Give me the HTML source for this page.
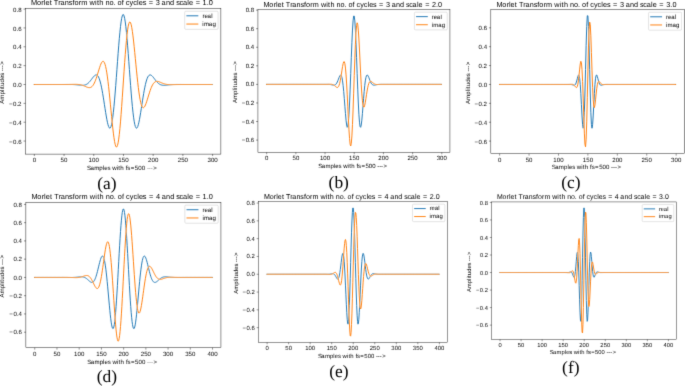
<!DOCTYPE html>
<html><head><meta charset="utf-8"><title>Morlet Transform plots</title><style>
html,body{margin:0;padding:0;background:#fff;}
body{width:685px;height:386px;overflow:hidden;}
svg{display:block;}
text{font-family:"Liberation Sans", sans-serif;fill:#000;text-rendering:geometricPrecision;}
text.cap{font-family:"Liberation Serif", serif;fill:#000;}
</style></head><body>
<svg width="685" height="386" viewBox="0 0 685 386">
<defs><filter id="bl" filterUnits="userSpaceOnUse" x="0" y="0" width="685" height="386" color-interpolation-filters="sRGB"><feConvolveMatrix order="3" kernelMatrix="0.01134 0.08382 0.01134 0.08382 0.61935 0.08382 0.01134 0.08382 0.01134" divisor="1" edgeMode="duplicate" preserveAlpha="true"/></filter></defs>
<rect width="685" height="386" fill="#fff"/>
<g filter="url(#bl)">
<rect width="685" height="386" fill="#fff"/>
<g><clipPath id="ca"><rect x="25.46" y="8.46" width="195.42" height="145.64"/></clipPath>
<mask id="ma" maskUnits="userSpaceOnUse" x="0" y="0" width="685" height="386"><rect width="685" height="386" fill="#fff"/><polyline points="34.34,84.50 34.94,84.50 35.53,84.50 36.13,84.50 36.72,84.50 37.31,84.50 37.91,84.50 38.50,84.50 39.10,84.50 39.69,84.50 40.28,84.50 40.88,84.50 41.47,84.50 42.07,84.50 42.66,84.50 43.26,84.50 43.85,84.50 44.44,84.50 45.04,84.50 45.63,84.50 46.23,84.50 46.82,84.50 47.41,84.50 48.01,84.50 48.60,84.50 49.20,84.50 49.79,84.50 50.38,84.50 50.98,84.50 51.57,84.50 52.17,84.50 52.76,84.50 53.36,84.50 53.95,84.50 54.54,84.50 55.14,84.50 55.73,84.50 56.33,84.50 56.92,84.50 57.51,84.50 58.11,84.50 58.70,84.50 59.30,84.50 59.89,84.50 60.49,84.50 61.08,84.50 61.67,84.50 62.27,84.50 62.86,84.50 63.46,84.50 64.05,84.50 64.64,84.50 65.24,84.50 65.83,84.49 66.43,84.49 67.02,84.48 67.62,84.48 68.21,84.47 68.80,84.46 69.40,84.45 69.99,84.44 70.59,84.43 71.18,84.42 71.77,84.40 72.37,84.39 72.96,84.38 73.56,84.37 74.15,84.36 74.75,84.35 75.34,84.35 75.93,84.35 76.53,84.36 77.12,84.38 77.72,84.41 78.31,84.46 78.90,84.52 79.50,84.59 80.09,84.69 80.69,84.81 81.28,84.95 81.88,85.11 82.47,85.30 83.06,85.50 83.66,85.73 84.25,85.97 84.85,86.23 85.44,86.49 86.03,86.75 86.63,87.00 87.22,87.22 87.82,87.42 88.41,87.56 89.01,87.64 89.60,87.65 90.19,87.55 90.79,87.35 91.38,87.02 91.98,86.55 92.57,85.92 93.16,85.13 93.76,84.16 94.35,83.02 94.95,81.70 95.54,80.22 96.14,78.59 96.73,76.83 97.32,74.96 97.92,73.03 98.51,71.08 99.11,69.14 99.70,67.29 100.29,65.57 100.89,64.05 101.48,62.80 102.08,61.88 102.67,61.36 103.27,61.30 103.86,61.74 104.45,62.75 105.05,64.35 105.64,66.57 106.24,69.41 106.83,72.88 107.42,76.95 108.02,81.57 108.61,86.69 109.21,92.22 109.80,98.08 110.40,104.16 110.99,110.32 111.58,116.44 112.18,122.37 112.77,127.97 113.37,133.10 113.96,137.61 114.55,141.37 115.15,144.26 115.74,146.18 116.34,147.04 116.93,146.79 117.53,145.38 118.12,142.82 118.71,139.13 119.31,134.35 119.90,128.57 120.50,121.88 121.09,114.42 121.68,106.33 122.28,97.78 122.87,88.96 123.47,80.04 124.06,71.22 124.65,62.67 125.25,54.58 125.84,47.12 126.44,40.43 127.03,34.65 127.63,29.87 128.22,26.18 128.81,23.62 129.41,22.21 130.00,21.96 130.60,22.82 131.19,24.74 131.78,27.63 132.38,31.39 132.97,35.90 133.57,41.03 134.16,46.63 134.76,52.56 135.35,58.68 135.94,64.84 136.54,70.92 137.13,76.78 137.73,82.31 138.32,87.43 138.91,92.05 139.51,96.12 140.10,99.59 140.70,102.43 141.29,104.65 141.89,106.25 142.48,107.26 143.07,107.70 143.67,107.64 144.26,107.12 144.86,106.20 145.45,104.95 146.04,103.43 146.64,101.71 147.23,99.86 147.83,97.92 148.42,95.97 149.02,94.04 149.61,92.17 150.20,90.41 150.80,88.78 151.39,87.30 151.99,85.98 152.58,84.84 153.17,83.87 153.77,83.08 154.36,82.45 154.96,81.98 155.55,81.65 156.15,81.45 156.74,81.35 157.33,81.36 157.93,81.44 158.52,81.58 159.12,81.78 159.71,82.00 160.30,82.25 160.90,82.51 161.49,82.77 162.09,83.03 162.68,83.27 163.28,83.50 163.87,83.70 164.46,83.89 165.06,84.05 165.65,84.19 166.25,84.31 166.84,84.41 167.43,84.48 168.03,84.54 168.62,84.59 169.22,84.62 169.81,84.64 170.41,84.65 171.00,84.65 171.59,84.65 172.19,84.64 172.78,84.63 173.38,84.62 173.97,84.61 174.56,84.60 175.16,84.58 175.75,84.57 176.35,84.56 176.94,84.55 177.54,84.54 178.13,84.53 178.72,84.52 179.32,84.52 179.91,84.51 180.51,84.51 181.10,84.50 181.69,84.50 182.29,84.50 182.88,84.50 183.48,84.50 184.07,84.50 184.67,84.50 185.26,84.50 185.85,84.50 186.45,84.50 187.04,84.50 187.64,84.50 188.23,84.50 188.82,84.50 189.42,84.50 190.01,84.50 190.61,84.50 191.20,84.50 191.79,84.50 192.39,84.50 192.98,84.50 193.58,84.50 194.17,84.50 194.77,84.50 195.36,84.50 195.95,84.50 196.55,84.50 197.14,84.50 197.74,84.50 198.33,84.50 198.92,84.50 199.52,84.50 200.11,84.50 200.71,84.50 201.30,84.50 201.90,84.50 202.49,84.50 203.08,84.50 203.68,84.50 204.27,84.50 204.87,84.50 205.46,84.50 206.05,84.50 206.65,84.50 207.24,84.50 207.84,84.50 208.43,84.50 209.03,84.50 209.62,84.50 210.21,84.50 210.81,84.50 211.40,84.50 212.00,84.50" fill="none" stroke="#000" stroke-width="0.99" stroke-linejoin="round"/></mask>
<g clip-path="url(#ca)"><polyline mask="url(#ma)" points="34.34,84.50 34.94,84.50 35.53,84.50 36.13,84.50 36.72,84.50 37.31,84.50 37.91,84.50 38.50,84.50 39.10,84.50 39.69,84.50 40.28,84.50 40.88,84.50 41.47,84.50 42.07,84.50 42.66,84.50 43.26,84.50 43.85,84.50 44.44,84.50 45.04,84.50 45.63,84.50 46.23,84.50 46.82,84.50 47.41,84.50 48.01,84.50 48.60,84.50 49.20,84.50 49.79,84.50 50.38,84.50 50.98,84.50 51.57,84.50 52.17,84.50 52.76,84.50 53.36,84.50 53.95,84.50 54.54,84.50 55.14,84.50 55.73,84.50 56.33,84.50 56.92,84.50 57.51,84.50 58.11,84.50 58.70,84.50 59.30,84.50 59.89,84.50 60.49,84.50 61.08,84.50 61.67,84.50 62.27,84.49 62.86,84.49 63.46,84.49 64.05,84.49 64.64,84.49 65.24,84.48 65.83,84.48 66.43,84.48 67.02,84.48 67.62,84.48 68.21,84.48 68.80,84.48 69.40,84.48 69.99,84.48 70.59,84.49 71.18,84.50 71.77,84.51 72.37,84.53 72.96,84.54 73.56,84.57 74.15,84.60 74.75,84.63 75.34,84.68 75.93,84.72 76.53,84.78 77.12,84.83 77.72,84.90 78.31,84.96 78.90,85.03 79.50,85.10 80.09,85.16 80.69,85.22 81.28,85.27 81.88,85.30 82.47,85.30 83.06,85.29 83.66,85.24 84.25,85.15 84.85,85.01 85.44,84.83 86.03,84.58 86.63,84.28 87.22,83.91 87.82,83.46 88.41,82.95 89.01,82.37 89.60,81.73 90.19,81.03 90.79,80.28 91.38,79.50 91.98,78.71 92.57,77.92 93.16,77.16 93.76,76.46 94.35,75.86 94.95,75.37 95.54,75.04 96.14,74.91 96.73,75.00 97.32,75.36 97.92,76.01 98.51,76.98 99.11,78.30 99.70,79.97 100.29,82.01 100.89,84.40 101.48,87.15 102.08,90.21 102.67,93.55 103.27,97.13 103.86,100.87 104.45,104.72 105.05,108.58 105.64,112.36 106.24,115.97 106.83,119.30 107.42,122.25 108.02,124.71 108.61,126.58 109.21,127.77 109.80,128.19 110.40,127.79 110.99,126.51 111.58,124.32 112.18,121.20 112.77,117.18 113.37,112.28 113.96,106.56 114.55,100.12 115.15,93.06 115.74,85.51 116.34,77.61 116.93,69.51 117.53,61.40 118.12,53.44 118.71,45.82 119.31,38.70 119.90,32.25 120.50,26.62 121.09,21.95 121.68,18.34 122.28,15.88 122.87,14.64 123.47,14.64 124.06,15.88 124.65,18.34 125.25,21.95 125.84,26.62 126.44,32.25 127.03,38.70 127.63,45.82 128.22,53.44 128.81,61.40 129.41,69.51 130.00,77.61 130.60,85.51 131.19,93.06 131.78,100.12 132.38,106.56 132.97,112.28 133.57,117.18 134.16,121.20 134.76,124.32 135.35,126.51 135.94,127.79 136.54,128.19 137.13,127.77 137.73,126.58 138.32,124.71 138.91,122.25 139.51,119.30 140.10,115.97 140.70,112.36 141.29,108.58 141.89,104.72 142.48,100.87 143.07,97.13 143.67,93.55 144.26,90.21 144.86,87.15 145.45,84.40 146.04,82.01 146.64,79.97 147.23,78.30 147.83,76.98 148.42,76.01 149.02,75.36 149.61,75.00 150.20,74.91 150.80,75.04 151.39,75.37 151.99,75.86 152.58,76.46 153.17,77.16 153.77,77.92 154.36,78.71 154.96,79.50 155.55,80.28 156.15,81.03 156.74,81.73 157.33,82.37 157.93,82.95 158.52,83.46 159.12,83.91 159.71,84.28 160.30,84.58 160.90,84.83 161.49,85.01 162.09,85.15 162.68,85.24 163.28,85.29 163.87,85.30 164.46,85.30 165.06,85.27 165.65,85.22 166.25,85.16 166.84,85.10 167.43,85.03 168.03,84.96 168.62,84.90 169.22,84.83 169.81,84.78 170.41,84.72 171.00,84.68 171.59,84.63 172.19,84.60 172.78,84.57 173.38,84.54 173.97,84.53 174.56,84.51 175.16,84.50 175.75,84.49 176.35,84.48 176.94,84.48 177.54,84.48 178.13,84.48 178.72,84.48 179.32,84.48 179.91,84.48 180.51,84.48 181.10,84.48 181.69,84.49 182.29,84.49 182.88,84.49 183.48,84.49 184.07,84.49 184.67,84.50 185.26,84.50 185.85,84.50 186.45,84.50 187.04,84.50 187.64,84.50 188.23,84.50 188.82,84.50 189.42,84.50 190.01,84.50 190.61,84.50 191.20,84.50 191.79,84.50 192.39,84.50 192.98,84.50 193.58,84.50 194.17,84.50 194.77,84.50 195.36,84.50 195.95,84.50 196.55,84.50 197.14,84.50 197.74,84.50 198.33,84.50 198.92,84.50 199.52,84.50 200.11,84.50 200.71,84.50 201.30,84.50 201.90,84.50 202.49,84.50 203.08,84.50 203.68,84.50 204.27,84.50 204.87,84.50 205.46,84.50 206.05,84.50 206.65,84.50 207.24,84.50 207.84,84.50 208.43,84.50 209.03,84.50 209.62,84.50 210.21,84.50 210.81,84.50 211.40,84.50 212.00,84.50" fill="none" stroke="#1f77b4" stroke-width="0.99" stroke-linejoin="round" stroke-linecap="square"/>
<polyline points="34.34,84.50 34.94,84.50 35.53,84.50 36.13,84.50 36.72,84.50 37.31,84.50 37.91,84.50 38.50,84.50 39.10,84.50 39.69,84.50 40.28,84.50 40.88,84.50 41.47,84.50 42.07,84.50 42.66,84.50 43.26,84.50 43.85,84.50 44.44,84.50 45.04,84.50 45.63,84.50 46.23,84.50 46.82,84.50 47.41,84.50 48.01,84.50 48.60,84.50 49.20,84.50 49.79,84.50 50.38,84.50 50.98,84.50 51.57,84.50 52.17,84.50 52.76,84.50 53.36,84.50 53.95,84.50 54.54,84.50 55.14,84.50 55.73,84.50 56.33,84.50 56.92,84.50 57.51,84.50 58.11,84.50 58.70,84.50 59.30,84.50 59.89,84.50 60.49,84.50 61.08,84.50 61.67,84.50 62.27,84.50 62.86,84.50 63.46,84.50 64.05,84.50 64.64,84.50 65.24,84.50 65.83,84.49 66.43,84.49 67.02,84.48 67.62,84.48 68.21,84.47 68.80,84.46 69.40,84.45 69.99,84.44 70.59,84.43 71.18,84.42 71.77,84.40 72.37,84.39 72.96,84.38 73.56,84.37 74.15,84.36 74.75,84.35 75.34,84.35 75.93,84.35 76.53,84.36 77.12,84.38 77.72,84.41 78.31,84.46 78.90,84.52 79.50,84.59 80.09,84.69 80.69,84.81 81.28,84.95 81.88,85.11 82.47,85.30 83.06,85.50 83.66,85.73 84.25,85.97 84.85,86.23 85.44,86.49 86.03,86.75 86.63,87.00 87.22,87.22 87.82,87.42 88.41,87.56 89.01,87.64 89.60,87.65 90.19,87.55 90.79,87.35 91.38,87.02 91.98,86.55 92.57,85.92 93.16,85.13 93.76,84.16 94.35,83.02 94.95,81.70 95.54,80.22 96.14,78.59 96.73,76.83 97.32,74.96 97.92,73.03 98.51,71.08 99.11,69.14 99.70,67.29 100.29,65.57 100.89,64.05 101.48,62.80 102.08,61.88 102.67,61.36 103.27,61.30 103.86,61.74 104.45,62.75 105.05,64.35 105.64,66.57 106.24,69.41 106.83,72.88 107.42,76.95 108.02,81.57 108.61,86.69 109.21,92.22 109.80,98.08 110.40,104.16 110.99,110.32 111.58,116.44 112.18,122.37 112.77,127.97 113.37,133.10 113.96,137.61 114.55,141.37 115.15,144.26 115.74,146.18 116.34,147.04 116.93,146.79 117.53,145.38 118.12,142.82 118.71,139.13 119.31,134.35 119.90,128.57 120.50,121.88 121.09,114.42 121.68,106.33 122.28,97.78 122.87,88.96 123.47,80.04 124.06,71.22 124.65,62.67 125.25,54.58 125.84,47.12 126.44,40.43 127.03,34.65 127.63,29.87 128.22,26.18 128.81,23.62 129.41,22.21 130.00,21.96 130.60,22.82 131.19,24.74 131.78,27.63 132.38,31.39 132.97,35.90 133.57,41.03 134.16,46.63 134.76,52.56 135.35,58.68 135.94,64.84 136.54,70.92 137.13,76.78 137.73,82.31 138.32,87.43 138.91,92.05 139.51,96.12 140.10,99.59 140.70,102.43 141.29,104.65 141.89,106.25 142.48,107.26 143.07,107.70 143.67,107.64 144.26,107.12 144.86,106.20 145.45,104.95 146.04,103.43 146.64,101.71 147.23,99.86 147.83,97.92 148.42,95.97 149.02,94.04 149.61,92.17 150.20,90.41 150.80,88.78 151.39,87.30 151.99,85.98 152.58,84.84 153.17,83.87 153.77,83.08 154.36,82.45 154.96,81.98 155.55,81.65 156.15,81.45 156.74,81.35 157.33,81.36 157.93,81.44 158.52,81.58 159.12,81.78 159.71,82.00 160.30,82.25 160.90,82.51 161.49,82.77 162.09,83.03 162.68,83.27 163.28,83.50 163.87,83.70 164.46,83.89 165.06,84.05 165.65,84.19 166.25,84.31 166.84,84.41 167.43,84.48 168.03,84.54 168.62,84.59 169.22,84.62 169.81,84.64 170.41,84.65 171.00,84.65 171.59,84.65 172.19,84.64 172.78,84.63 173.38,84.62 173.97,84.61 174.56,84.60 175.16,84.58 175.75,84.57 176.35,84.56 176.94,84.55 177.54,84.54 178.13,84.53 178.72,84.52 179.32,84.52 179.91,84.51 180.51,84.51 181.10,84.50 181.69,84.50 182.29,84.50 182.88,84.50 183.48,84.50 184.07,84.50 184.67,84.50 185.26,84.50 185.85,84.50 186.45,84.50 187.04,84.50 187.64,84.50 188.23,84.50 188.82,84.50 189.42,84.50 190.01,84.50 190.61,84.50 191.20,84.50 191.79,84.50 192.39,84.50 192.98,84.50 193.58,84.50 194.17,84.50 194.77,84.50 195.36,84.50 195.95,84.50 196.55,84.50 197.14,84.50 197.74,84.50 198.33,84.50 198.92,84.50 199.52,84.50 200.11,84.50 200.71,84.50 201.30,84.50 201.90,84.50 202.49,84.50 203.08,84.50 203.68,84.50 204.27,84.50 204.87,84.50 205.46,84.50 206.05,84.50 206.65,84.50 207.24,84.50 207.84,84.50 208.43,84.50 209.03,84.50 209.62,84.50 210.21,84.50 210.81,84.50 211.40,84.50 212.00,84.50" fill="none" stroke="#ff7f0e" stroke-width="0.99" stroke-linejoin="round" stroke-linecap="square"/></g>
<rect x="25.46" y="8.46" width="195.42" height="145.64" fill="none" stroke="#000" stroke-width="0.44" stroke-linecap="square"/>
<line x1="34.34" y1="154.10" x2="34.34" y2="156.02" stroke="#000" stroke-width="0.44"/>
<text x="32.64" y="162.27" font-size="6.13">0</text>
<line x1="64.05" y1="154.10" x2="64.05" y2="156.02" stroke="#000" stroke-width="0.44"/>
<text x="60.60 64.07" y="162.27" font-size="6.13">50</text>
<line x1="93.76" y1="154.10" x2="93.76" y2="156.02" stroke="#000" stroke-width="0.44"/>
<text x="88.55 92.05 95.52" y="162.27" font-size="6.13">100</text>
<line x1="123.47" y1="154.10" x2="123.47" y2="156.02" stroke="#000" stroke-width="0.44"/>
<text x="118.26 121.74 125.22" y="162.27" font-size="6.13">150</text>
<line x1="153.17" y1="154.10" x2="153.17" y2="156.02" stroke="#000" stroke-width="0.44"/>
<text x="147.95 151.47 154.92" y="162.27" font-size="6.13">200</text>
<line x1="182.88" y1="154.10" x2="182.88" y2="156.02" stroke="#000" stroke-width="0.44"/>
<text x="177.66 181.16 184.62" y="162.27" font-size="6.13">250</text>
<line x1="212.59" y1="154.10" x2="212.59" y2="156.02" stroke="#000" stroke-width="0.44"/>
<text x="207.45 210.88 214.33" y="162.27" font-size="6.13">300</text>
<line x1="23.54" y1="141.06" x2="25.46" y2="141.06" stroke="#000" stroke-width="0.44"/>
<text x="8.88 12.98 16.44 18.19" y="143.67" font-size="6.13">−0.6</text>
<line x1="23.54" y1="122.21" x2="25.46" y2="122.21" stroke="#000" stroke-width="0.44"/>
<text x="8.92 13.01 16.45 18.20" y="124.81" font-size="6.13">−0.4</text>
<line x1="23.54" y1="103.35" x2="25.46" y2="103.35" stroke="#000" stroke-width="0.44"/>
<text x="8.92 13.01 16.45 18.12" y="105.96" font-size="6.13">−0.2</text>
<line x1="23.54" y1="84.50" x2="25.46" y2="84.50" stroke="#000" stroke-width="0.44"/>
<text x="13.03 16.47 18.20" y="87.11" font-size="6.13">0.0</text>
<line x1="23.54" y1="65.65" x2="25.46" y2="65.65" stroke="#000" stroke-width="0.44"/>
<text x="13.03 16.47 18.13" y="68.26" font-size="6.13">0.2</text>
<line x1="23.54" y1="46.79" x2="25.46" y2="46.79" stroke="#000" stroke-width="0.44"/>
<text x="13.03 16.47 18.20" y="49.40" font-size="6.13">0.4</text>
<line x1="23.54" y1="27.94" x2="25.46" y2="27.94" stroke="#000" stroke-width="0.44"/>
<text x="12.99 16.44 18.19" y="30.55" font-size="6.13">0.6</text>
<line x1="23.54" y1="9.09" x2="25.46" y2="9.09" stroke="#000" stroke-width="0.44"/>
<text x="12.99 16.44 18.19" y="11.70" font-size="6.13">0.8</text>
<text x="86.93 90.42 94.13 99.37 102.85 104.27 107.56 110.49 112.22 116.74 118.37 120.33 123.77 125.66 127.33 130.74 134.81 138.30 141.76 145.22 146.89 148.86 150.82 153.32" y="169.97" font-size="6.13">Samples with fs=500 ---&gt;</text>
<g transform="translate(4.01,103.62) rotate(-90)"><text x="-0.18 3.84 9.09 12.57 14.08 15.72 17.66 21.10 24.55 27.84 30.77 32.45 34.41 36.38 38.87" y="0.00" font-size="6.13">Amplitudes ---&gt;</text></g>
<text x="31.11 36.92 41.18 43.72 45.40 49.67 52.00 53.79 58.25 60.39 64.71 68.70 72.39 74.42 78.68 81.25 87.47 89.53 94.94 96.89 99.22 103.33 105.42 109.46 113.50 115.57 117.57 121.80 123.90 125.82 129.61 133.24 137.04 138.73 142.66 146.16 148.79 153.67 155.76 159.88 161.62 165.94 170.02 174.17 176.13 179.48 182.88 187.26 188.95 192.99 195.63 200.51 202.54 206.71 208.79" y="5.18" font-size="7.36">Morlet Transform with no. of cycles = 3 and scale = 1.0</text>
<rect x="184.70" y="11.20" width="33.44" height="18.15" rx="1.09" fill="#fff" fill-opacity="0.8" stroke="#ccc" stroke-width="0.55"/>
<line x1="186.89" y1="15.80" x2="197.84" y2="15.80" stroke="#1f77b4" stroke-width="0.99" stroke-linecap="square"/>
<line x1="186.89" y1="24.06" x2="197.84" y2="24.06" stroke="#ff7f0e" stroke-width="0.99" stroke-linecap="square"/>
<text x="202.41 204.44 207.55 211.22" y="17.72" font-size="6.13">real</text>
<text x="202.30 203.88 208.86 212.48" y="25.97" font-size="6.13">imag</text>
<text class="cap" x="97.24" y="188.50" font-size="17.40">(a)</text></g>
<g><clipPath id="cb"><rect x="257.94" y="9.42" width="192.00" height="142.93"/></clipPath>
<mask id="mb" maskUnits="userSpaceOnUse" x="0" y="0" width="685" height="386"><rect width="685" height="386" fill="#fff"/><polyline points="266.67,84.39 267.25,84.39 267.83,84.39 268.42,84.39 269.00,84.39 269.59,84.39 270.17,84.39 270.75,84.39 271.34,84.39 271.92,84.39 272.51,84.39 273.09,84.39 273.67,84.39 274.26,84.39 274.84,84.39 275.42,84.39 276.01,84.39 276.59,84.39 277.18,84.39 277.76,84.39 278.34,84.39 278.93,84.39 279.51,84.39 280.09,84.39 280.68,84.39 281.26,84.39 281.85,84.39 282.43,84.39 283.01,84.39 283.60,84.39 284.18,84.39 284.76,84.39 285.35,84.39 285.93,84.39 286.52,84.39 287.10,84.39 287.68,84.39 288.27,84.39 288.85,84.39 289.43,84.39 290.02,84.39 290.60,84.39 291.19,84.39 291.77,84.39 292.35,84.39 292.94,84.39 293.52,84.39 294.10,84.39 294.69,84.39 295.27,84.39 295.86,84.39 296.44,84.39 297.02,84.39 297.61,84.39 298.19,84.39 298.77,84.39 299.36,84.39 299.94,84.39 300.53,84.39 301.11,84.39 301.69,84.39 302.28,84.39 302.86,84.39 303.44,84.39 304.03,84.39 304.61,84.39 305.20,84.39 305.78,84.39 306.36,84.39 306.95,84.39 307.53,84.39 308.11,84.39 308.70,84.39 309.28,84.39 309.87,84.39 310.45,84.39 311.03,84.39 311.62,84.39 312.20,84.39 312.79,84.39 313.37,84.39 313.95,84.39 314.54,84.39 315.12,84.39 315.70,84.39 316.29,84.39 316.87,84.39 317.46,84.39 318.04,84.39 318.62,84.39 319.21,84.39 319.79,84.39 320.37,84.39 320.96,84.39 321.54,84.39 322.13,84.39 322.71,84.39 323.29,84.39 323.88,84.39 324.46,84.39 325.04,84.39 325.63,84.38 326.21,84.38 326.80,84.36 327.38,84.35 327.96,84.33 328.55,84.30 329.13,84.28 329.71,84.25 330.30,84.24 330.88,84.25 331.47,84.29 332.05,84.37 332.63,84.53 333.22,84.76 333.80,85.08 334.38,85.49 334.97,85.96 335.55,86.48 336.14,86.96 336.72,87.34 337.30,87.50 337.89,87.31 338.47,86.66 339.05,85.42 339.64,83.51 340.22,80.92 340.81,77.72 341.39,74.05 341.97,70.21 342.56,66.57 343.14,63.60 343.72,61.81 344.31,61.69 344.89,63.68 345.48,68.05 346.06,74.88 346.64,83.97 347.23,94.85 347.81,106.78 348.39,118.79 348.98,129.79 349.56,138.64 350.15,144.31 350.73,145.99 351.31,143.23 351.90,135.96 352.48,124.59 353.07,109.94 353.65,93.15 354.23,75.63 354.82,58.84 355.40,44.19 355.98,32.82 356.57,25.55 357.15,22.79 357.74,24.47 358.32,30.14 358.90,38.99 359.49,49.99 360.07,62.00 360.65,73.93 361.24,84.81 361.82,93.90 362.41,100.73 362.99,105.10 363.57,107.09 364.16,106.97 364.74,105.18 365.32,102.21 365.91,98.57 366.49,94.73 367.08,91.06 367.66,87.86 368.24,85.27 368.83,83.36 369.41,82.12 369.99,81.47 370.58,81.28 371.16,81.44 371.75,81.82 372.33,82.30 372.91,82.82 373.50,83.29 374.08,83.70 374.66,84.02 375.25,84.25 375.83,84.41 376.42,84.49 377.00,84.53 377.58,84.54 378.17,84.53 378.75,84.50 379.33,84.48 379.92,84.45 380.50,84.43 381.09,84.42 381.67,84.40 382.25,84.40 382.84,84.39 383.42,84.39 384.00,84.39 384.59,84.39 385.17,84.39 385.76,84.39 386.34,84.39 386.92,84.39 387.51,84.39 388.09,84.39 388.68,84.39 389.26,84.39 389.84,84.39 390.43,84.39 391.01,84.39 391.59,84.39 392.18,84.39 392.76,84.39 393.35,84.39 393.93,84.39 394.51,84.39 395.10,84.39 395.68,84.39 396.26,84.39 396.85,84.39 397.43,84.39 398.02,84.39 398.60,84.39 399.18,84.39 399.77,84.39 400.35,84.39 400.93,84.39 401.52,84.39 402.10,84.39 402.69,84.39 403.27,84.39 403.85,84.39 404.44,84.39 405.02,84.39 405.60,84.39 406.19,84.39 406.77,84.39 407.36,84.39 407.94,84.39 408.52,84.39 409.11,84.39 409.69,84.39 410.27,84.39 410.86,84.39 411.44,84.39 412.03,84.39 412.61,84.39 413.19,84.39 413.78,84.39 414.36,84.39 414.94,84.39 415.53,84.39 416.11,84.39 416.70,84.39 417.28,84.39 417.86,84.39 418.45,84.39 419.03,84.39 419.61,84.39 420.20,84.39 420.78,84.39 421.37,84.39 421.95,84.39 422.53,84.39 423.12,84.39 423.70,84.39 424.28,84.39 424.87,84.39 425.45,84.39 426.04,84.39 426.62,84.39 427.20,84.39 427.79,84.39 428.37,84.39 428.96,84.39 429.54,84.39 430.12,84.39 430.71,84.39 431.29,84.39 431.87,84.39 432.46,84.39 433.04,84.39 433.63,84.39 434.21,84.39 434.79,84.39 435.38,84.39 435.96,84.39 436.54,84.39 437.13,84.39 437.71,84.39 438.30,84.39 438.88,84.39 439.46,84.39 440.05,84.39 440.63,84.39 441.21,84.39" fill="none" stroke="#000" stroke-width="0.97" stroke-linejoin="round"/></mask>
<g clip-path="url(#cb)"><polyline mask="url(#mb)" points="266.67,84.39 267.25,84.39 267.83,84.39 268.42,84.39 269.00,84.39 269.59,84.39 270.17,84.39 270.75,84.39 271.34,84.39 271.92,84.39 272.51,84.39 273.09,84.39 273.67,84.39 274.26,84.39 274.84,84.39 275.42,84.39 276.01,84.39 276.59,84.39 277.18,84.39 277.76,84.39 278.34,84.39 278.93,84.39 279.51,84.39 280.09,84.39 280.68,84.39 281.26,84.39 281.85,84.39 282.43,84.39 283.01,84.39 283.60,84.39 284.18,84.39 284.76,84.39 285.35,84.39 285.93,84.39 286.52,84.39 287.10,84.39 287.68,84.39 288.27,84.39 288.85,84.39 289.43,84.39 290.02,84.39 290.60,84.39 291.19,84.39 291.77,84.39 292.35,84.39 292.94,84.39 293.52,84.39 294.10,84.39 294.69,84.39 295.27,84.39 295.86,84.39 296.44,84.39 297.02,84.39 297.61,84.39 298.19,84.39 298.77,84.39 299.36,84.39 299.94,84.39 300.53,84.39 301.11,84.39 301.69,84.39 302.28,84.39 302.86,84.39 303.44,84.39 304.03,84.39 304.61,84.39 305.20,84.39 305.78,84.39 306.36,84.39 306.95,84.39 307.53,84.39 308.11,84.39 308.70,84.39 309.28,84.39 309.87,84.39 310.45,84.39 311.03,84.39 311.62,84.39 312.20,84.39 312.79,84.39 313.37,84.39 313.95,84.39 314.54,84.39 315.12,84.39 315.70,84.39 316.29,84.39 316.87,84.39 317.46,84.39 318.04,84.39 318.62,84.39 319.21,84.39 319.79,84.39 320.37,84.39 320.96,84.39 321.54,84.39 322.13,84.39 322.71,84.39 323.29,84.39 323.88,84.38 324.46,84.38 325.04,84.38 325.63,84.37 326.21,84.37 326.80,84.37 327.38,84.37 327.96,84.38 328.55,84.39 329.13,84.42 329.71,84.47 330.30,84.54 330.88,84.64 331.47,84.75 332.05,84.88 332.63,85.01 333.22,85.12 333.80,85.18 334.38,85.14 334.97,84.97 335.55,84.60 336.14,84.00 336.72,83.13 337.30,81.99 337.89,80.61 338.47,79.08 339.05,77.53 339.64,76.16 340.22,75.22 340.81,74.96 341.39,75.67 341.97,77.59 342.56,80.89 343.14,85.60 343.72,91.62 344.31,98.65 344.89,106.21 345.48,113.63 346.06,120.17 346.64,124.98 347.23,127.31 347.81,126.50 348.39,122.18 348.98,114.26 349.56,103.03 350.15,89.16 350.73,73.63 351.31,57.70 351.90,42.72 352.48,30.06 353.07,20.88 353.65,16.05 354.23,16.05 354.82,20.88 355.40,30.06 355.98,42.72 356.57,57.70 357.15,73.63 357.74,89.16 358.32,103.03 358.90,114.26 359.49,122.18 360.07,126.50 360.65,127.31 361.24,124.98 361.82,120.17 362.41,113.63 362.99,106.21 363.57,98.65 364.16,91.62 364.74,85.60 365.32,80.89 365.91,77.59 366.49,75.67 367.08,74.96 367.66,75.22 368.24,76.16 368.83,77.53 369.41,79.08 369.99,80.61 370.58,81.99 371.16,83.13 371.75,84.00 372.33,84.60 372.91,84.97 373.50,85.14 374.08,85.18 374.66,85.12 375.25,85.01 375.83,84.88 376.42,84.75 377.00,84.64 377.58,84.54 378.17,84.47 378.75,84.42 379.33,84.39 379.92,84.38 380.50,84.37 381.09,84.37 381.67,84.37 382.25,84.37 382.84,84.38 383.42,84.38 384.00,84.38 384.59,84.39 385.17,84.39 385.76,84.39 386.34,84.39 386.92,84.39 387.51,84.39 388.09,84.39 388.68,84.39 389.26,84.39 389.84,84.39 390.43,84.39 391.01,84.39 391.59,84.39 392.18,84.39 392.76,84.39 393.35,84.39 393.93,84.39 394.51,84.39 395.10,84.39 395.68,84.39 396.26,84.39 396.85,84.39 397.43,84.39 398.02,84.39 398.60,84.39 399.18,84.39 399.77,84.39 400.35,84.39 400.93,84.39 401.52,84.39 402.10,84.39 402.69,84.39 403.27,84.39 403.85,84.39 404.44,84.39 405.02,84.39 405.60,84.39 406.19,84.39 406.77,84.39 407.36,84.39 407.94,84.39 408.52,84.39 409.11,84.39 409.69,84.39 410.27,84.39 410.86,84.39 411.44,84.39 412.03,84.39 412.61,84.39 413.19,84.39 413.78,84.39 414.36,84.39 414.94,84.39 415.53,84.39 416.11,84.39 416.70,84.39 417.28,84.39 417.86,84.39 418.45,84.39 419.03,84.39 419.61,84.39 420.20,84.39 420.78,84.39 421.37,84.39 421.95,84.39 422.53,84.39 423.12,84.39 423.70,84.39 424.28,84.39 424.87,84.39 425.45,84.39 426.04,84.39 426.62,84.39 427.20,84.39 427.79,84.39 428.37,84.39 428.96,84.39 429.54,84.39 430.12,84.39 430.71,84.39 431.29,84.39 431.87,84.39 432.46,84.39 433.04,84.39 433.63,84.39 434.21,84.39 434.79,84.39 435.38,84.39 435.96,84.39 436.54,84.39 437.13,84.39 437.71,84.39 438.30,84.39 438.88,84.39 439.46,84.39 440.05,84.39 440.63,84.39 441.21,84.39" fill="none" stroke="#1f77b4" stroke-width="0.97" stroke-linejoin="round" stroke-linecap="square"/>
<polyline points="266.67,84.39 267.25,84.39 267.83,84.39 268.42,84.39 269.00,84.39 269.59,84.39 270.17,84.39 270.75,84.39 271.34,84.39 271.92,84.39 272.51,84.39 273.09,84.39 273.67,84.39 274.26,84.39 274.84,84.39 275.42,84.39 276.01,84.39 276.59,84.39 277.18,84.39 277.76,84.39 278.34,84.39 278.93,84.39 279.51,84.39 280.09,84.39 280.68,84.39 281.26,84.39 281.85,84.39 282.43,84.39 283.01,84.39 283.60,84.39 284.18,84.39 284.76,84.39 285.35,84.39 285.93,84.39 286.52,84.39 287.10,84.39 287.68,84.39 288.27,84.39 288.85,84.39 289.43,84.39 290.02,84.39 290.60,84.39 291.19,84.39 291.77,84.39 292.35,84.39 292.94,84.39 293.52,84.39 294.10,84.39 294.69,84.39 295.27,84.39 295.86,84.39 296.44,84.39 297.02,84.39 297.61,84.39 298.19,84.39 298.77,84.39 299.36,84.39 299.94,84.39 300.53,84.39 301.11,84.39 301.69,84.39 302.28,84.39 302.86,84.39 303.44,84.39 304.03,84.39 304.61,84.39 305.20,84.39 305.78,84.39 306.36,84.39 306.95,84.39 307.53,84.39 308.11,84.39 308.70,84.39 309.28,84.39 309.87,84.39 310.45,84.39 311.03,84.39 311.62,84.39 312.20,84.39 312.79,84.39 313.37,84.39 313.95,84.39 314.54,84.39 315.12,84.39 315.70,84.39 316.29,84.39 316.87,84.39 317.46,84.39 318.04,84.39 318.62,84.39 319.21,84.39 319.79,84.39 320.37,84.39 320.96,84.39 321.54,84.39 322.13,84.39 322.71,84.39 323.29,84.39 323.88,84.39 324.46,84.39 325.04,84.39 325.63,84.38 326.21,84.38 326.80,84.36 327.38,84.35 327.96,84.33 328.55,84.30 329.13,84.28 329.71,84.25 330.30,84.24 330.88,84.25 331.47,84.29 332.05,84.37 332.63,84.53 333.22,84.76 333.80,85.08 334.38,85.49 334.97,85.96 335.55,86.48 336.14,86.96 336.72,87.34 337.30,87.50 337.89,87.31 338.47,86.66 339.05,85.42 339.64,83.51 340.22,80.92 340.81,77.72 341.39,74.05 341.97,70.21 342.56,66.57 343.14,63.60 343.72,61.81 344.31,61.69 344.89,63.68 345.48,68.05 346.06,74.88 346.64,83.97 347.23,94.85 347.81,106.78 348.39,118.79 348.98,129.79 349.56,138.64 350.15,144.31 350.73,145.99 351.31,143.23 351.90,135.96 352.48,124.59 353.07,109.94 353.65,93.15 354.23,75.63 354.82,58.84 355.40,44.19 355.98,32.82 356.57,25.55 357.15,22.79 357.74,24.47 358.32,30.14 358.90,38.99 359.49,49.99 360.07,62.00 360.65,73.93 361.24,84.81 361.82,93.90 362.41,100.73 362.99,105.10 363.57,107.09 364.16,106.97 364.74,105.18 365.32,102.21 365.91,98.57 366.49,94.73 367.08,91.06 367.66,87.86 368.24,85.27 368.83,83.36 369.41,82.12 369.99,81.47 370.58,81.28 371.16,81.44 371.75,81.82 372.33,82.30 372.91,82.82 373.50,83.29 374.08,83.70 374.66,84.02 375.25,84.25 375.83,84.41 376.42,84.49 377.00,84.53 377.58,84.54 378.17,84.53 378.75,84.50 379.33,84.48 379.92,84.45 380.50,84.43 381.09,84.42 381.67,84.40 382.25,84.40 382.84,84.39 383.42,84.39 384.00,84.39 384.59,84.39 385.17,84.39 385.76,84.39 386.34,84.39 386.92,84.39 387.51,84.39 388.09,84.39 388.68,84.39 389.26,84.39 389.84,84.39 390.43,84.39 391.01,84.39 391.59,84.39 392.18,84.39 392.76,84.39 393.35,84.39 393.93,84.39 394.51,84.39 395.10,84.39 395.68,84.39 396.26,84.39 396.85,84.39 397.43,84.39 398.02,84.39 398.60,84.39 399.18,84.39 399.77,84.39 400.35,84.39 400.93,84.39 401.52,84.39 402.10,84.39 402.69,84.39 403.27,84.39 403.85,84.39 404.44,84.39 405.02,84.39 405.60,84.39 406.19,84.39 406.77,84.39 407.36,84.39 407.94,84.39 408.52,84.39 409.11,84.39 409.69,84.39 410.27,84.39 410.86,84.39 411.44,84.39 412.03,84.39 412.61,84.39 413.19,84.39 413.78,84.39 414.36,84.39 414.94,84.39 415.53,84.39 416.11,84.39 416.70,84.39 417.28,84.39 417.86,84.39 418.45,84.39 419.03,84.39 419.61,84.39 420.20,84.39 420.78,84.39 421.37,84.39 421.95,84.39 422.53,84.39 423.12,84.39 423.70,84.39 424.28,84.39 424.87,84.39 425.45,84.39 426.04,84.39 426.62,84.39 427.20,84.39 427.79,84.39 428.37,84.39 428.96,84.39 429.54,84.39 430.12,84.39 430.71,84.39 431.29,84.39 431.87,84.39 432.46,84.39 433.04,84.39 433.63,84.39 434.21,84.39 434.79,84.39 435.38,84.39 435.96,84.39 436.54,84.39 437.13,84.39 437.71,84.39 438.30,84.39 438.88,84.39 439.46,84.39 440.05,84.39 440.63,84.39 441.21,84.39" fill="none" stroke="#ff7f0e" stroke-width="0.97" stroke-linejoin="round" stroke-linecap="square"/></g>
<rect x="257.94" y="9.42" width="192.00" height="142.93" fill="none" stroke="#000" stroke-width="0.43" stroke-linecap="square"/>
<line x1="266.67" y1="152.35" x2="266.67" y2="154.23" stroke="#000" stroke-width="0.43"/>
<text x="264.99" y="160.37" font-size="6.02">0</text>
<line x1="295.86" y1="152.35" x2="295.86" y2="154.23" stroke="#000" stroke-width="0.43"/>
<text x="292.47 295.88" y="160.37" font-size="6.02">50</text>
<line x1="325.04" y1="152.35" x2="325.04" y2="154.23" stroke="#000" stroke-width="0.43"/>
<text x="319.93 323.37 326.77" y="160.37" font-size="6.02">100</text>
<line x1="354.23" y1="152.35" x2="354.23" y2="154.23" stroke="#000" stroke-width="0.43"/>
<text x="349.12 352.54 355.96" y="160.37" font-size="6.02">150</text>
<line x1="383.42" y1="152.35" x2="383.42" y2="154.23" stroke="#000" stroke-width="0.43"/>
<text x="378.29 381.75 385.13" y="160.37" font-size="6.02">200</text>
<line x1="412.61" y1="152.35" x2="412.61" y2="154.23" stroke="#000" stroke-width="0.43"/>
<text x="407.48 410.92 414.32" y="160.37" font-size="6.02">250</text>
<line x1="441.80" y1="152.35" x2="441.80" y2="154.23" stroke="#000" stroke-width="0.43"/>
<text x="436.75 440.12 443.51" y="160.37" font-size="6.02">300</text>
<line x1="256.06" y1="140.09" x2="257.94" y2="140.09" stroke="#000" stroke-width="0.43"/>
<text x="241.65 245.68 249.08 250.80" y="142.08" font-size="6.02">−0.6</text>
<line x1="256.06" y1="121.52" x2="257.94" y2="121.52" stroke="#000" stroke-width="0.43"/>
<text x="241.69 245.71 249.09 250.80" y="123.51" font-size="6.02">−0.4</text>
<line x1="256.06" y1="102.96" x2="257.94" y2="102.96" stroke="#000" stroke-width="0.43"/>
<text x="241.69 245.71 249.09 250.73" y="104.95" font-size="6.02">−0.2</text>
<line x1="256.06" y1="84.39" x2="257.94" y2="84.39" stroke="#000" stroke-width="0.43"/>
<text x="245.73 249.10 250.81" y="86.38" font-size="6.02">0.0</text>
<line x1="256.06" y1="65.82" x2="257.94" y2="65.82" stroke="#000" stroke-width="0.43"/>
<text x="245.73 249.10 250.74" y="67.81" font-size="6.02">0.2</text>
<line x1="256.06" y1="47.26" x2="257.94" y2="47.26" stroke="#000" stroke-width="0.43"/>
<text x="245.73 249.10 250.81" y="49.25" font-size="6.02">0.4</text>
<line x1="256.06" y1="28.69" x2="257.94" y2="28.69" stroke="#000" stroke-width="0.43"/>
<text x="245.69 249.08 250.80" y="30.68" font-size="6.02">0.6</text>
<line x1="256.06" y1="10.13" x2="257.94" y2="10.13" stroke="#000" stroke-width="0.43"/>
<text x="245.69 249.08 250.80" y="12.12" font-size="6.02">0.8</text>
<text x="318.34 321.77 325.41 330.56 333.98 335.37 338.61 341.48 343.18 347.62 349.23 351.15 354.53 356.39 358.03 361.38 365.38 368.81 372.21 375.60 377.25 379.18 381.11 383.56" y="167.93" font-size="6.02">Samples with fs=500 ---&gt;</text>
<g transform="translate(236.85,102.81) rotate(-90)"><text x="-0.18 3.77 8.92 12.33 13.82 15.42 17.33 20.71 24.09 27.32 30.19 31.84 33.77 35.70 38.15" y="0.00" font-size="6.02">Amplitudes ---&gt;</text></g>
<text x="263.50 269.21 273.39 275.88 277.54 281.73 284.01 285.78 290.16 292.26 296.51 300.43 304.05 306.05 310.23 312.76 318.87 320.89 326.20 328.12 330.41 334.45 336.50 340.47 344.44 346.47 348.44 352.60 354.66 356.55 360.27 363.84 367.57 369.23 373.09 376.53 379.12 383.91 385.96 390.01 391.72 395.97 399.97 404.05 405.98 409.27 412.61 416.91 418.57 422.54 425.13 429.93 431.88 436.02 438.06" y="6.90" font-size="7.22">Morlet Transform with no. of cycles = 3 and scale = 2.0</text>
<rect x="414.40" y="12.11" width="32.86" height="17.81" rx="1.07" fill="#fff" fill-opacity="0.8" stroke="#ccc" stroke-width="0.54"/>
<line x1="416.55" y1="16.63" x2="427.30" y2="16.63" stroke="#1f77b4" stroke-width="0.97" stroke-linecap="square"/>
<line x1="416.55" y1="24.73" x2="427.30" y2="24.73" stroke="#ff7f0e" stroke-width="0.97" stroke-linecap="square"/>
<text x="431.79 433.79 436.85 440.45" y="18.51" font-size="6.02">real</text>
<text x="431.69 433.24 438.14 441.69" y="26.61" font-size="6.02">imag</text>
<text class="cap" x="328.61" y="187.90" font-size="17.40">(b)</text></g>
<g><clipPath id="cc"><rect x="490.83" y="9.52" width="193.54" height="144.21"/></clipPath>
<mask id="mc" maskUnits="userSpaceOnUse" x="0" y="0" width="685" height="386"><rect width="685" height="386" fill="#fff"/><polyline points="499.63,84.46 500.22,84.46 500.80,84.46 501.39,84.46 501.98,84.46 502.57,84.46 503.16,84.46 503.75,84.46 504.33,84.46 504.92,84.46 505.51,84.46 506.10,84.46 506.69,84.46 507.28,84.46 507.87,84.46 508.45,84.46 509.04,84.46 509.63,84.46 510.22,84.46 510.81,84.46 511.40,84.46 511.98,84.46 512.57,84.46 513.16,84.46 513.75,84.46 514.34,84.46 514.93,84.46 515.52,84.46 516.10,84.46 516.69,84.46 517.28,84.46 517.87,84.46 518.46,84.46 519.05,84.46 519.63,84.46 520.22,84.46 520.81,84.46 521.40,84.46 521.99,84.46 522.58,84.46 523.16,84.46 523.75,84.46 524.34,84.46 524.93,84.46 525.52,84.46 526.11,84.46 526.70,84.46 527.28,84.46 527.87,84.46 528.46,84.46 529.05,84.46 529.64,84.46 530.23,84.46 530.81,84.46 531.40,84.46 531.99,84.46 532.58,84.46 533.17,84.46 533.76,84.46 534.35,84.46 534.93,84.46 535.52,84.46 536.11,84.46 536.70,84.46 537.29,84.46 537.88,84.46 538.46,84.46 539.05,84.46 539.64,84.46 540.23,84.46 540.82,84.46 541.41,84.46 542.00,84.46 542.58,84.46 543.17,84.46 543.76,84.46 544.35,84.46 544.94,84.46 545.53,84.46 546.11,84.46 546.70,84.46 547.29,84.46 547.88,84.46 548.47,84.46 549.06,84.46 549.64,84.46 550.23,84.46 550.82,84.46 551.41,84.46 552.00,84.46 552.59,84.46 553.18,84.46 553.76,84.46 554.35,84.46 554.94,84.46 555.53,84.46 556.12,84.46 556.71,84.46 557.29,84.46 557.88,84.46 558.47,84.46 559.06,84.46 559.65,84.46 560.24,84.46 560.83,84.46 561.41,84.46 562.00,84.46 562.59,84.46 563.18,84.46 563.77,84.46 564.36,84.46 564.94,84.46 565.53,84.46 566.12,84.46 566.71,84.46 567.30,84.46 567.89,84.46 568.48,84.46 569.06,84.44 569.65,84.42 570.24,84.39 570.83,84.35 571.42,84.32 572.01,84.31 572.59,84.37 573.18,84.55 573.77,84.91 574.36,85.46 574.95,86.19 575.54,86.96 576.12,87.52 576.71,87.52 577.30,86.51 577.89,84.12 578.48,80.17 579.07,74.91 579.66,69.08 580.24,63.98 580.83,61.29 581.42,62.68 582.01,69.35 582.60,81.53 583.19,98.06 583.77,116.45 584.36,133.13 584.95,144.31 585.54,146.84 586.13,139.17 586.72,121.89 587.31,97.76 587.89,71.16 588.48,47.03 589.07,29.75 589.66,22.08 590.25,24.61 590.84,35.79 591.42,52.47 592.01,70.86 592.60,87.39 593.19,99.57 593.78,106.24 594.37,107.63 594.96,104.94 595.54,99.84 596.13,94.01 596.72,88.75 597.31,84.80 597.90,82.41 598.49,81.40 599.07,81.40 599.66,81.96 600.25,82.73 600.84,83.46 601.43,84.01 602.02,84.37 602.60,84.55 603.19,84.61 603.78,84.60 604.37,84.57 604.96,84.53 605.55,84.50 606.14,84.48 606.72,84.46 607.31,84.46 607.90,84.46 608.49,84.46 609.08,84.46 609.67,84.46 610.25,84.46 610.84,84.46 611.43,84.46 612.02,84.46 612.61,84.46 613.20,84.46 613.79,84.46 614.37,84.46 614.96,84.46 615.55,84.46 616.14,84.46 616.73,84.46 617.32,84.46 617.90,84.46 618.49,84.46 619.08,84.46 619.67,84.46 620.26,84.46 620.85,84.46 621.44,84.46 622.02,84.46 622.61,84.46 623.20,84.46 623.79,84.46 624.38,84.46 624.97,84.46 625.55,84.46 626.14,84.46 626.73,84.46 627.32,84.46 627.91,84.46 628.50,84.46 629.08,84.46 629.67,84.46 630.26,84.46 630.85,84.46 631.44,84.46 632.03,84.46 632.62,84.46 633.20,84.46 633.79,84.46 634.38,84.46 634.97,84.46 635.56,84.46 636.15,84.46 636.73,84.46 637.32,84.46 637.91,84.46 638.50,84.46 639.09,84.46 639.68,84.46 640.27,84.46 640.85,84.46 641.44,84.46 642.03,84.46 642.62,84.46 643.21,84.46 643.80,84.46 644.38,84.46 644.97,84.46 645.56,84.46 646.15,84.46 646.74,84.46 647.33,84.46 647.92,84.46 648.50,84.46 649.09,84.46 649.68,84.46 650.27,84.46 650.86,84.46 651.45,84.46 652.03,84.46 652.62,84.46 653.21,84.46 653.80,84.46 654.39,84.46 654.98,84.46 655.56,84.46 656.15,84.46 656.74,84.46 657.33,84.46 657.92,84.46 658.51,84.46 659.10,84.46 659.68,84.46 660.27,84.46 660.86,84.46 661.45,84.46 662.04,84.46 662.63,84.46 663.21,84.46 663.80,84.46 664.39,84.46 664.98,84.46 665.57,84.46 666.16,84.46 666.75,84.46 667.33,84.46 667.92,84.46 668.51,84.46 669.10,84.46 669.69,84.46 670.28,84.46 670.86,84.46 671.45,84.46 672.04,84.46 672.63,84.46 673.22,84.46 673.81,84.46 674.40,84.46 674.98,84.46 675.57,84.46" fill="none" stroke="#000" stroke-width="0.98" stroke-linejoin="round"/></mask>
<g clip-path="url(#cc)"><polyline mask="url(#mc)" points="499.63,84.46 500.22,84.46 500.80,84.46 501.39,84.46 501.98,84.46 502.57,84.46 503.16,84.46 503.75,84.46 504.33,84.46 504.92,84.46 505.51,84.46 506.10,84.46 506.69,84.46 507.28,84.46 507.87,84.46 508.45,84.46 509.04,84.46 509.63,84.46 510.22,84.46 510.81,84.46 511.40,84.46 511.98,84.46 512.57,84.46 513.16,84.46 513.75,84.46 514.34,84.46 514.93,84.46 515.52,84.46 516.10,84.46 516.69,84.46 517.28,84.46 517.87,84.46 518.46,84.46 519.05,84.46 519.63,84.46 520.22,84.46 520.81,84.46 521.40,84.46 521.99,84.46 522.58,84.46 523.16,84.46 523.75,84.46 524.34,84.46 524.93,84.46 525.52,84.46 526.11,84.46 526.70,84.46 527.28,84.46 527.87,84.46 528.46,84.46 529.05,84.46 529.64,84.46 530.23,84.46 530.81,84.46 531.40,84.46 531.99,84.46 532.58,84.46 533.17,84.46 533.76,84.46 534.35,84.46 534.93,84.46 535.52,84.46 536.11,84.46 536.70,84.46 537.29,84.46 537.88,84.46 538.46,84.46 539.05,84.46 539.64,84.46 540.23,84.46 540.82,84.46 541.41,84.46 542.00,84.46 542.58,84.46 543.17,84.46 543.76,84.46 544.35,84.46 544.94,84.46 545.53,84.46 546.11,84.46 546.70,84.46 547.29,84.46 547.88,84.46 548.47,84.46 549.06,84.46 549.64,84.46 550.23,84.46 550.82,84.46 551.41,84.46 552.00,84.46 552.59,84.46 553.18,84.46 553.76,84.46 554.35,84.46 554.94,84.46 555.53,84.46 556.12,84.46 556.71,84.46 557.29,84.46 557.88,84.46 558.47,84.46 559.06,84.46 559.65,84.46 560.24,84.46 560.83,84.46 561.41,84.46 562.00,84.46 562.59,84.46 563.18,84.46 563.77,84.46 564.36,84.46 564.94,84.46 565.53,84.46 566.12,84.46 566.71,84.46 567.30,84.46 567.89,84.45 568.48,84.44 569.06,84.44 569.65,84.44 570.24,84.45 570.83,84.49 571.42,84.56 572.01,84.68 572.59,84.86 573.18,85.06 573.77,85.23 574.36,85.25 574.95,84.97 575.54,84.24 576.12,82.91 576.71,80.98 577.30,78.66 577.89,76.41 578.48,74.99 579.07,75.31 579.66,78.25 580.24,84.36 580.83,93.52 581.42,104.71 582.01,115.98 582.60,124.73 583.19,128.22 583.77,124.34 584.36,112.28 584.95,93.04 585.54,69.45 586.13,45.72 586.72,26.49 587.31,15.74 587.89,15.74 588.48,26.49 589.07,45.72 589.66,69.45 590.25,93.04 590.84,112.28 591.42,124.34 592.01,128.22 592.60,124.73 593.19,115.98 593.78,104.71 594.37,93.52 594.96,84.36 595.54,78.25 596.13,75.31 596.72,74.99 597.31,76.41 597.90,78.66 598.49,80.98 599.07,82.91 599.66,84.24 600.25,84.97 600.84,85.25 601.43,85.23 602.02,85.06 602.60,84.86 603.19,84.68 603.78,84.56 604.37,84.49 604.96,84.45 605.55,84.44 606.14,84.44 606.72,84.44 607.31,84.45 607.90,84.46 608.49,84.46 609.08,84.46 609.67,84.46 610.25,84.46 610.84,84.46 611.43,84.46 612.02,84.46 612.61,84.46 613.20,84.46 613.79,84.46 614.37,84.46 614.96,84.46 615.55,84.46 616.14,84.46 616.73,84.46 617.32,84.46 617.90,84.46 618.49,84.46 619.08,84.46 619.67,84.46 620.26,84.46 620.85,84.46 621.44,84.46 622.02,84.46 622.61,84.46 623.20,84.46 623.79,84.46 624.38,84.46 624.97,84.46 625.55,84.46 626.14,84.46 626.73,84.46 627.32,84.46 627.91,84.46 628.50,84.46 629.08,84.46 629.67,84.46 630.26,84.46 630.85,84.46 631.44,84.46 632.03,84.46 632.62,84.46 633.20,84.46 633.79,84.46 634.38,84.46 634.97,84.46 635.56,84.46 636.15,84.46 636.73,84.46 637.32,84.46 637.91,84.46 638.50,84.46 639.09,84.46 639.68,84.46 640.27,84.46 640.85,84.46 641.44,84.46 642.03,84.46 642.62,84.46 643.21,84.46 643.80,84.46 644.38,84.46 644.97,84.46 645.56,84.46 646.15,84.46 646.74,84.46 647.33,84.46 647.92,84.46 648.50,84.46 649.09,84.46 649.68,84.46 650.27,84.46 650.86,84.46 651.45,84.46 652.03,84.46 652.62,84.46 653.21,84.46 653.80,84.46 654.39,84.46 654.98,84.46 655.56,84.46 656.15,84.46 656.74,84.46 657.33,84.46 657.92,84.46 658.51,84.46 659.10,84.46 659.68,84.46 660.27,84.46 660.86,84.46 661.45,84.46 662.04,84.46 662.63,84.46 663.21,84.46 663.80,84.46 664.39,84.46 664.98,84.46 665.57,84.46 666.16,84.46 666.75,84.46 667.33,84.46 667.92,84.46 668.51,84.46 669.10,84.46 669.69,84.46 670.28,84.46 670.86,84.46 671.45,84.46 672.04,84.46 672.63,84.46 673.22,84.46 673.81,84.46 674.40,84.46 674.98,84.46 675.57,84.46" fill="none" stroke="#1f77b4" stroke-width="0.98" stroke-linejoin="round" stroke-linecap="square"/>
<polyline points="499.63,84.46 500.22,84.46 500.80,84.46 501.39,84.46 501.98,84.46 502.57,84.46 503.16,84.46 503.75,84.46 504.33,84.46 504.92,84.46 505.51,84.46 506.10,84.46 506.69,84.46 507.28,84.46 507.87,84.46 508.45,84.46 509.04,84.46 509.63,84.46 510.22,84.46 510.81,84.46 511.40,84.46 511.98,84.46 512.57,84.46 513.16,84.46 513.75,84.46 514.34,84.46 514.93,84.46 515.52,84.46 516.10,84.46 516.69,84.46 517.28,84.46 517.87,84.46 518.46,84.46 519.05,84.46 519.63,84.46 520.22,84.46 520.81,84.46 521.40,84.46 521.99,84.46 522.58,84.46 523.16,84.46 523.75,84.46 524.34,84.46 524.93,84.46 525.52,84.46 526.11,84.46 526.70,84.46 527.28,84.46 527.87,84.46 528.46,84.46 529.05,84.46 529.64,84.46 530.23,84.46 530.81,84.46 531.40,84.46 531.99,84.46 532.58,84.46 533.17,84.46 533.76,84.46 534.35,84.46 534.93,84.46 535.52,84.46 536.11,84.46 536.70,84.46 537.29,84.46 537.88,84.46 538.46,84.46 539.05,84.46 539.64,84.46 540.23,84.46 540.82,84.46 541.41,84.46 542.00,84.46 542.58,84.46 543.17,84.46 543.76,84.46 544.35,84.46 544.94,84.46 545.53,84.46 546.11,84.46 546.70,84.46 547.29,84.46 547.88,84.46 548.47,84.46 549.06,84.46 549.64,84.46 550.23,84.46 550.82,84.46 551.41,84.46 552.00,84.46 552.59,84.46 553.18,84.46 553.76,84.46 554.35,84.46 554.94,84.46 555.53,84.46 556.12,84.46 556.71,84.46 557.29,84.46 557.88,84.46 558.47,84.46 559.06,84.46 559.65,84.46 560.24,84.46 560.83,84.46 561.41,84.46 562.00,84.46 562.59,84.46 563.18,84.46 563.77,84.46 564.36,84.46 564.94,84.46 565.53,84.46 566.12,84.46 566.71,84.46 567.30,84.46 567.89,84.46 568.48,84.46 569.06,84.44 569.65,84.42 570.24,84.39 570.83,84.35 571.42,84.32 572.01,84.31 572.59,84.37 573.18,84.55 573.77,84.91 574.36,85.46 574.95,86.19 575.54,86.96 576.12,87.52 576.71,87.52 577.30,86.51 577.89,84.12 578.48,80.17 579.07,74.91 579.66,69.08 580.24,63.98 580.83,61.29 581.42,62.68 582.01,69.35 582.60,81.53 583.19,98.06 583.77,116.45 584.36,133.13 584.95,144.31 585.54,146.84 586.13,139.17 586.72,121.89 587.31,97.76 587.89,71.16 588.48,47.03 589.07,29.75 589.66,22.08 590.25,24.61 590.84,35.79 591.42,52.47 592.01,70.86 592.60,87.39 593.19,99.57 593.78,106.24 594.37,107.63 594.96,104.94 595.54,99.84 596.13,94.01 596.72,88.75 597.31,84.80 597.90,82.41 598.49,81.40 599.07,81.40 599.66,81.96 600.25,82.73 600.84,83.46 601.43,84.01 602.02,84.37 602.60,84.55 603.19,84.61 603.78,84.60 604.37,84.57 604.96,84.53 605.55,84.50 606.14,84.48 606.72,84.46 607.31,84.46 607.90,84.46 608.49,84.46 609.08,84.46 609.67,84.46 610.25,84.46 610.84,84.46 611.43,84.46 612.02,84.46 612.61,84.46 613.20,84.46 613.79,84.46 614.37,84.46 614.96,84.46 615.55,84.46 616.14,84.46 616.73,84.46 617.32,84.46 617.90,84.46 618.49,84.46 619.08,84.46 619.67,84.46 620.26,84.46 620.85,84.46 621.44,84.46 622.02,84.46 622.61,84.46 623.20,84.46 623.79,84.46 624.38,84.46 624.97,84.46 625.55,84.46 626.14,84.46 626.73,84.46 627.32,84.46 627.91,84.46 628.50,84.46 629.08,84.46 629.67,84.46 630.26,84.46 630.85,84.46 631.44,84.46 632.03,84.46 632.62,84.46 633.20,84.46 633.79,84.46 634.38,84.46 634.97,84.46 635.56,84.46 636.15,84.46 636.73,84.46 637.32,84.46 637.91,84.46 638.50,84.46 639.09,84.46 639.68,84.46 640.27,84.46 640.85,84.46 641.44,84.46 642.03,84.46 642.62,84.46 643.21,84.46 643.80,84.46 644.38,84.46 644.97,84.46 645.56,84.46 646.15,84.46 646.74,84.46 647.33,84.46 647.92,84.46 648.50,84.46 649.09,84.46 649.68,84.46 650.27,84.46 650.86,84.46 651.45,84.46 652.03,84.46 652.62,84.46 653.21,84.46 653.80,84.46 654.39,84.46 654.98,84.46 655.56,84.46 656.15,84.46 656.74,84.46 657.33,84.46 657.92,84.46 658.51,84.46 659.10,84.46 659.68,84.46 660.27,84.46 660.86,84.46 661.45,84.46 662.04,84.46 662.63,84.46 663.21,84.46 663.80,84.46 664.39,84.46 664.98,84.46 665.57,84.46 666.16,84.46 666.75,84.46 667.33,84.46 667.92,84.46 668.51,84.46 669.10,84.46 669.69,84.46 670.28,84.46 670.86,84.46 671.45,84.46 672.04,84.46 672.63,84.46 673.22,84.46 673.81,84.46 674.40,84.46 674.98,84.46 675.57,84.46" fill="none" stroke="#ff7f0e" stroke-width="0.98" stroke-linejoin="round" stroke-linecap="square"/></g>
<rect x="490.83" y="9.52" width="193.54" height="144.21" fill="none" stroke="#000" stroke-width="0.43" stroke-linecap="square"/>
<line x1="499.63" y1="153.73" x2="499.63" y2="155.63" stroke="#000" stroke-width="0.43"/>
<text x="497.94" y="161.82" font-size="6.07">0</text>
<line x1="529.05" y1="153.73" x2="529.05" y2="155.63" stroke="#000" stroke-width="0.43"/>
<text x="525.63 529.07" y="161.82" font-size="6.07">50</text>
<line x1="558.47" y1="153.73" x2="558.47" y2="155.63" stroke="#000" stroke-width="0.43"/>
<text x="553.32 556.78 560.21" y="161.82" font-size="6.07">100</text>
<line x1="587.89" y1="153.73" x2="587.89" y2="155.63" stroke="#000" stroke-width="0.43"/>
<text x="582.74 586.18 589.64" y="161.82" font-size="6.07">150</text>
<line x1="617.32" y1="153.73" x2="617.32" y2="155.63" stroke="#000" stroke-width="0.43"/>
<text x="612.14 615.63 619.04" y="161.82" font-size="6.07">200</text>
<line x1="646.74" y1="153.73" x2="646.74" y2="155.63" stroke="#000" stroke-width="0.43"/>
<text x="641.56 645.03 648.46" y="161.82" font-size="6.07">250</text>
<line x1="676.16" y1="153.73" x2="676.16" y2="155.63" stroke="#000" stroke-width="0.43"/>
<text x="671.07 674.47 677.89" y="161.82" font-size="6.07">300</text>
<line x1="488.93" y1="141.10" x2="490.83" y2="141.10" stroke="#000" stroke-width="0.43"/>
<text x="474.41 478.47 481.89 483.63" y="143.58" font-size="6.07">−0.6</text>
<line x1="488.93" y1="122.22" x2="490.83" y2="122.22" stroke="#000" stroke-width="0.43"/>
<text x="474.45 478.50 481.91 483.64" y="124.70" font-size="6.07">−0.4</text>
<line x1="488.93" y1="103.34" x2="490.83" y2="103.34" stroke="#000" stroke-width="0.43"/>
<text x="474.45 478.50 481.91 483.56" y="105.82" font-size="6.07">−0.2</text>
<line x1="488.93" y1="84.46" x2="490.83" y2="84.46" stroke="#000" stroke-width="0.43"/>
<text x="478.52 481.92 483.64" y="86.94" font-size="6.07">0.0</text>
<line x1="488.93" y1="65.58" x2="490.83" y2="65.58" stroke="#000" stroke-width="0.43"/>
<text x="478.52 481.92 483.57" y="68.06" font-size="6.07">0.2</text>
<line x1="488.93" y1="46.70" x2="490.83" y2="46.70" stroke="#000" stroke-width="0.43"/>
<text x="478.52 481.92 483.64" y="49.18" font-size="6.07">0.4</text>
<line x1="488.93" y1="27.82" x2="490.83" y2="27.82" stroke="#000" stroke-width="0.43"/>
<text x="478.48 481.90 483.63" y="30.30" font-size="6.07">0.6</text>
<text x="551.71 555.17 558.84 564.03 567.47 568.88 572.14 575.04 576.75 581.23 582.85 584.79 588.20 590.07 591.72 595.09 599.13 602.58 606.01 609.43 611.10 613.04 614.99 617.46" y="169.45" font-size="6.07">Samples with fs=500 ---&gt;</text>
<g transform="translate(469.58,103.74) rotate(-90)"><text x="-0.18 3.80 9.00 12.44 13.94 15.56 17.49 20.89 24.30 27.57 30.46 32.13 34.07 36.02 38.49" y="0.00" font-size="6.07">Amplitudes ---&gt;</text></g>
<text x="496.43 502.18 506.40 508.91 510.58 514.81 517.11 518.89 523.30 525.42 529.70 533.66 537.31 539.32 543.54 546.08 552.25 554.28 559.64 561.57 563.88 567.96 570.02 574.02 578.02 580.07 582.05 586.24 588.32 590.23 593.98 597.58 601.33 603.01 606.90 610.37 612.97 617.81 619.88 623.95 625.68 629.96 634.00 638.11 640.05 643.37 646.74 651.07 652.75 656.75 659.36 664.19 666.26 670.33 672.39" y="7.07" font-size="7.28">Morlet Transform with no. of cycles = 3 and scale = 3.0</text>
<rect x="648.54" y="12.23" width="33.12" height="17.97" rx="1.08" fill="#fff" fill-opacity="0.8" stroke="#ccc" stroke-width="0.54"/>
<line x1="650.71" y1="16.79" x2="661.55" y2="16.79" stroke="#1f77b4" stroke-width="0.98" stroke-linecap="square"/>
<line x1="650.71" y1="24.96" x2="661.55" y2="24.96" stroke="#ff7f0e" stroke-width="0.98" stroke-linecap="square"/>
<text x="666.08 668.08 671.17 674.80" y="18.69" font-size="6.07">real</text>
<text x="665.97 667.53 672.47 676.05" y="26.86" font-size="6.07">imag</text>
<text class="cap" x="561.34" y="188.20" font-size="17.40">(c)</text></g>
<g><clipPath id="cd"><rect x="25.87" y="202.39" width="195.07" height="145.34"/></clipPath>
<mask id="md" maskUnits="userSpaceOnUse" x="0" y="0" width="685" height="386"><rect width="685" height="386" fill="#fff"/><polyline points="34.74,277.43 35.18,277.43 35.63,277.43 36.07,277.43 36.51,277.43 36.96,277.43 37.40,277.43 37.85,277.43 38.29,277.43 38.74,277.43 39.18,277.43 39.63,277.43 40.07,277.43 40.51,277.43 40.96,277.43 41.40,277.43 41.85,277.43 42.29,277.43 42.74,277.43 43.18,277.43 43.63,277.43 44.07,277.43 44.51,277.43 44.96,277.43 45.40,277.43 45.85,277.43 46.29,277.43 46.74,277.43 47.18,277.43 47.63,277.43 48.07,277.43 48.52,277.43 48.96,277.43 49.40,277.43 49.85,277.43 50.29,277.43 50.74,277.43 51.18,277.43 51.63,277.43 52.07,277.43 52.52,277.43 52.96,277.43 53.40,277.43 53.85,277.43 54.29,277.43 54.74,277.43 55.18,277.43 55.63,277.43 56.07,277.43 56.52,277.43 56.96,277.43 57.40,277.43 57.85,277.43 58.29,277.43 58.74,277.43 59.18,277.43 59.63,277.43 60.07,277.43 60.52,277.43 60.96,277.43 61.40,277.43 61.85,277.43 62.29,277.42 62.74,277.42 63.18,277.42 63.63,277.42 64.07,277.42 64.52,277.42 64.96,277.42 65.40,277.42 65.85,277.42 66.29,277.42 66.74,277.42 67.18,277.42 67.63,277.43 68.07,277.43 68.52,277.44 68.96,277.44 69.40,277.45 69.85,277.46 70.29,277.47 70.74,277.48 71.18,277.49 71.63,277.50 72.07,277.51 72.52,277.53 72.96,277.54 73.40,277.56 73.85,277.57 74.29,277.59 74.74,277.60 75.18,277.61 75.63,277.61 76.07,277.62 76.52,277.61 76.96,277.60 77.40,277.58 77.85,277.56 78.29,277.52 78.74,277.47 79.18,277.41 79.63,277.34 80.07,277.26 80.52,277.16 80.96,277.05 81.40,276.93 81.85,276.79 82.29,276.65 82.74,276.50 83.18,276.35 83.63,276.19 84.07,276.04 84.52,275.89 84.96,275.76 85.40,275.65 85.85,275.56 86.29,275.51 86.74,275.50 87.18,275.53 87.63,275.62 88.07,275.77 88.52,275.98 88.96,276.27 89.41,276.64 89.85,277.08 90.29,277.60 90.74,278.20 91.18,278.88 91.63,279.63 92.07,280.44 92.52,281.31 92.96,282.21 93.41,283.13 93.85,284.05 94.29,284.96 94.74,285.82 95.18,286.61 95.63,287.31 96.07,287.88 96.52,288.29 96.96,288.52 97.41,288.55 97.85,288.33 98.29,287.86 98.74,287.11 99.18,286.08 99.63,284.74 100.07,283.10 100.52,281.17 100.96,278.95 101.41,276.47 101.85,273.75 102.29,270.83 102.74,267.75 103.18,264.57 103.63,261.34 104.07,258.13 104.52,255.01 104.96,252.04 105.41,249.31 105.85,246.90 106.29,244.87 106.74,243.30 107.18,242.25 107.63,241.78 108.07,241.95 108.52,242.80 108.96,244.34 109.41,246.59 109.85,249.56 110.29,253.22 110.74,257.55 111.18,262.48 111.63,267.96 112.07,273.91 112.52,280.23 112.96,286.82 113.41,293.55 113.85,300.31 114.29,306.95 114.74,313.35 115.18,319.38 115.63,324.89 116.07,329.77 116.52,333.91 116.96,337.19 117.41,339.54 117.85,340.88 118.29,341.16 118.74,340.36 119.18,338.46 119.63,335.48 120.07,331.47 120.52,326.47 120.96,320.57 121.41,313.88 121.85,306.51 122.29,298.60 122.74,290.29 123.18,281.75 123.63,273.11 124.07,264.57 124.52,256.26 124.96,248.35 125.41,240.98 125.85,234.29 126.29,228.39 126.74,223.39 127.18,219.38 127.63,216.40 128.07,214.50 128.52,213.70 128.96,213.98 129.41,215.32 129.85,217.67 130.29,220.95 130.74,225.09 131.18,229.97 131.63,235.48 132.07,241.51 132.52,247.91 132.96,254.55 133.41,261.31 133.85,268.04 134.30,274.63 134.74,280.95 135.18,286.90 135.63,292.38 136.07,297.31 136.52,301.64 136.96,305.30 137.41,308.27 137.85,310.52 138.30,312.06 138.74,312.91 139.18,313.08 139.63,312.61 140.07,311.56 140.52,309.99 140.96,307.96 141.41,305.55 141.85,302.82 142.30,299.85 142.74,296.73 143.18,293.52 143.63,290.29 144.07,287.11 144.52,284.03 144.96,281.11 145.41,278.39 145.85,275.91 146.30,273.69 146.74,271.76 147.18,270.12 147.63,268.78 148.07,267.75 148.52,267.00 148.96,266.53 149.41,266.31 149.85,266.34 150.30,266.57 150.74,266.98 151.18,267.55 151.63,268.25 152.07,269.04 152.52,269.90 152.96,270.81 153.41,271.73 153.85,272.65 154.30,273.55 154.74,274.42 155.18,275.23 155.63,275.98 156.07,276.66 156.52,277.26 156.96,277.78 157.41,278.22 157.85,278.59 158.30,278.88 158.74,279.09 159.18,279.24 159.63,279.33 160.07,279.36 160.52,279.35 160.96,279.30 161.41,279.21 161.85,279.10 162.30,278.97 162.74,278.82 163.18,278.67 163.63,278.51 164.07,278.36 164.52,278.21 164.96,278.07 165.41,277.93 165.85,277.81 166.30,277.70 166.74,277.60 167.18,277.52 167.63,277.45 168.07,277.39 168.52,277.34 168.96,277.30 169.41,277.28 169.85,277.26 170.30,277.25 170.74,277.24 171.18,277.25 171.63,277.25 172.07,277.26 172.52,277.27 172.96,277.29 173.41,277.30 173.85,277.32 174.30,277.33 174.74,277.35 175.19,277.36 175.63,277.37 176.07,277.38 176.52,277.39 176.96,277.40 177.41,277.41 177.85,277.42 178.30,277.42 178.74,277.43 179.19,277.43 179.63,277.44 180.07,277.44 180.52,277.44 180.96,277.44 181.41,277.44 181.85,277.44 182.30,277.44 182.74,277.44 183.19,277.44 183.63,277.44 184.07,277.44 184.52,277.44 184.96,277.43 185.41,277.43 185.85,277.43 186.30,277.43 186.74,277.43 187.19,277.43 187.63,277.43 188.07,277.43 188.52,277.43 188.96,277.43 189.41,277.43 189.85,277.43 190.30,277.43 190.74,277.43 191.19,277.43 191.63,277.43 192.07,277.43 192.52,277.43 192.96,277.43 193.41,277.43 193.85,277.43 194.30,277.43 194.74,277.43 195.19,277.43 195.63,277.43 196.07,277.43 196.52,277.43 196.96,277.43 197.41,277.43 197.85,277.43 198.30,277.43 198.74,277.43 199.19,277.43 199.63,277.43 200.07,277.43 200.52,277.43 200.96,277.43 201.41,277.43 201.85,277.43 202.30,277.43 202.74,277.43 203.19,277.43 203.63,277.43 204.07,277.43 204.52,277.43 204.96,277.43 205.41,277.43 205.85,277.43 206.30,277.43 206.74,277.43 207.19,277.43 207.63,277.43 208.07,277.43 208.52,277.43 208.96,277.43 209.41,277.43 209.85,277.43 210.30,277.43 210.74,277.43 211.19,277.43 211.63,277.43 212.07,277.43" fill="none" stroke="#000" stroke-width="0.98" stroke-linejoin="round"/></mask>
<g clip-path="url(#cd)"><polyline mask="url(#md)" points="34.74,277.43 35.18,277.43 35.63,277.43 36.07,277.43 36.51,277.43 36.96,277.43 37.40,277.43 37.85,277.43 38.29,277.43 38.74,277.43 39.18,277.43 39.63,277.43 40.07,277.43 40.51,277.43 40.96,277.43 41.40,277.43 41.85,277.43 42.29,277.43 42.74,277.43 43.18,277.43 43.63,277.43 44.07,277.43 44.51,277.43 44.96,277.43 45.40,277.43 45.85,277.43 46.29,277.43 46.74,277.43 47.18,277.43 47.63,277.43 48.07,277.43 48.52,277.43 48.96,277.43 49.40,277.43 49.85,277.43 50.29,277.43 50.74,277.43 51.18,277.43 51.63,277.43 52.07,277.43 52.52,277.43 52.96,277.43 53.40,277.43 53.85,277.43 54.29,277.43 54.74,277.43 55.18,277.43 55.63,277.43 56.07,277.43 56.52,277.43 56.96,277.43 57.40,277.43 57.85,277.43 58.29,277.43 58.74,277.43 59.18,277.43 59.63,277.43 60.07,277.43 60.52,277.43 60.96,277.43 61.40,277.43 61.85,277.43 62.29,277.43 62.74,277.43 63.18,277.43 63.63,277.43 64.07,277.43 64.52,277.44 64.96,277.44 65.40,277.44 65.85,277.44 66.29,277.45 66.74,277.45 67.18,277.45 67.63,277.46 68.07,277.46 68.52,277.47 68.96,277.47 69.40,277.47 69.85,277.47 70.29,277.48 70.74,277.48 71.18,277.47 71.63,277.47 72.07,277.47 72.52,277.46 72.96,277.45 73.40,277.43 73.85,277.42 74.29,277.40 74.74,277.37 75.18,277.34 75.63,277.31 76.07,277.27 76.52,277.22 76.96,277.18 77.40,277.13 77.85,277.08 78.29,277.03 78.74,276.97 79.18,276.92 79.63,276.88 80.07,276.84 80.52,276.81 80.96,276.79 81.40,276.78 81.85,276.80 82.29,276.83 82.74,276.88 83.18,276.96 83.63,277.07 84.07,277.21 84.52,277.39 84.96,277.60 85.40,277.84 85.85,278.11 86.29,278.42 86.74,278.76 87.18,279.12 87.63,279.51 88.07,279.91 88.52,280.32 88.96,280.72 89.41,281.11 89.85,281.47 90.29,281.80 90.74,282.07 91.18,282.28 91.63,282.40 92.07,282.42 92.52,282.33 92.96,282.12 93.41,281.76 93.85,281.26 94.29,280.59 94.74,279.77 95.18,278.78 95.63,277.63 96.07,276.32 96.52,274.86 96.96,273.28 97.41,271.59 97.85,269.81 98.29,267.98 98.74,266.14 99.18,264.31 99.63,262.55 100.07,260.91 100.52,259.42 100.96,258.14 101.41,257.12 101.85,256.40 102.29,256.04 102.74,256.06 103.18,256.52 103.63,257.43 104.07,258.81 104.52,260.68 104.96,263.05 105.41,265.89 105.85,269.20 106.29,272.93 106.74,277.04 107.18,281.48 107.63,286.17 108.07,291.04 108.52,296.01 108.96,300.97 109.41,305.83 109.85,310.48 110.29,314.82 110.74,318.74 111.18,322.13 111.63,324.91 112.07,326.99 112.52,328.28 112.96,328.73 113.41,328.29 113.85,326.93 114.29,324.64 114.74,321.42 115.18,317.30 115.63,312.33 116.07,306.58 116.52,300.13 116.96,293.09 117.41,285.57 117.85,277.70 118.29,269.63 118.74,261.52 119.18,253.50 119.63,245.74 120.07,238.39 120.52,231.59 120.96,225.49 121.41,220.19 121.85,215.82 122.29,212.46 122.74,210.19 123.18,209.03 123.63,209.03 124.07,210.19 124.52,212.46 124.96,215.82 125.41,220.19 125.85,225.49 126.29,231.59 126.74,238.39 127.18,245.74 127.63,253.50 128.07,261.52 128.52,269.63 128.96,277.70 129.41,285.57 129.85,293.09 130.29,300.13 130.74,306.58 131.18,312.33 131.63,317.30 132.07,321.42 132.52,324.64 132.96,326.93 133.41,328.29 133.85,328.73 134.30,328.28 134.74,326.99 135.18,324.91 135.63,322.13 136.07,318.74 136.52,314.82 136.96,310.48 137.41,305.83 137.85,300.97 138.30,296.01 138.74,291.04 139.18,286.17 139.63,281.48 140.07,277.04 140.52,272.93 140.96,269.20 141.41,265.89 141.85,263.05 142.30,260.68 142.74,258.81 143.18,257.43 143.63,256.52 144.07,256.06 144.52,256.04 144.96,256.40 145.41,257.12 145.85,258.14 146.30,259.42 146.74,260.91 147.18,262.55 147.63,264.31 148.07,266.14 148.52,267.98 148.96,269.81 149.41,271.59 149.85,273.28 150.30,274.86 150.74,276.32 151.18,277.63 151.63,278.78 152.07,279.77 152.52,280.59 152.96,281.26 153.41,281.76 153.85,282.12 154.30,282.33 154.74,282.42 155.18,282.40 155.63,282.28 156.07,282.07 156.52,281.80 156.96,281.47 157.41,281.11 157.85,280.72 158.30,280.32 158.74,279.91 159.18,279.51 159.63,279.12 160.07,278.76 160.52,278.42 160.96,278.11 161.41,277.84 161.85,277.60 162.30,277.39 162.74,277.21 163.18,277.07 163.63,276.96 164.07,276.88 164.52,276.83 164.96,276.80 165.41,276.78 165.85,276.79 166.30,276.81 166.74,276.84 167.18,276.88 167.63,276.92 168.07,276.97 168.52,277.03 168.96,277.08 169.41,277.13 169.85,277.18 170.30,277.22 170.74,277.27 171.18,277.31 171.63,277.34 172.07,277.37 172.52,277.40 172.96,277.42 173.41,277.43 173.85,277.45 174.30,277.46 174.74,277.47 175.19,277.47 175.63,277.47 176.07,277.48 176.52,277.48 176.96,277.47 177.41,277.47 177.85,277.47 178.30,277.47 178.74,277.46 179.19,277.46 179.63,277.45 180.07,277.45 180.52,277.45 180.96,277.44 181.41,277.44 181.85,277.44 182.30,277.44 182.74,277.43 183.19,277.43 183.63,277.43 184.07,277.43 184.52,277.43 184.96,277.43 185.41,277.43 185.85,277.43 186.30,277.43 186.74,277.43 187.19,277.43 187.63,277.43 188.07,277.43 188.52,277.43 188.96,277.43 189.41,277.43 189.85,277.43 190.30,277.43 190.74,277.43 191.19,277.43 191.63,277.43 192.07,277.43 192.52,277.43 192.96,277.43 193.41,277.43 193.85,277.43 194.30,277.43 194.74,277.43 195.19,277.43 195.63,277.43 196.07,277.43 196.52,277.43 196.96,277.43 197.41,277.43 197.85,277.43 198.30,277.43 198.74,277.43 199.19,277.43 199.63,277.43 200.07,277.43 200.52,277.43 200.96,277.43 201.41,277.43 201.85,277.43 202.30,277.43 202.74,277.43 203.19,277.43 203.63,277.43 204.07,277.43 204.52,277.43 204.96,277.43 205.41,277.43 205.85,277.43 206.30,277.43 206.74,277.43 207.19,277.43 207.63,277.43 208.07,277.43 208.52,277.43 208.96,277.43 209.41,277.43 209.85,277.43 210.30,277.43 210.74,277.43 211.19,277.43 211.63,277.43 212.07,277.43" fill="none" stroke="#1f77b4" stroke-width="0.98" stroke-linejoin="round" stroke-linecap="square"/>
<polyline points="34.74,277.43 35.18,277.43 35.63,277.43 36.07,277.43 36.51,277.43 36.96,277.43 37.40,277.43 37.85,277.43 38.29,277.43 38.74,277.43 39.18,277.43 39.63,277.43 40.07,277.43 40.51,277.43 40.96,277.43 41.40,277.43 41.85,277.43 42.29,277.43 42.74,277.43 43.18,277.43 43.63,277.43 44.07,277.43 44.51,277.43 44.96,277.43 45.40,277.43 45.85,277.43 46.29,277.43 46.74,277.43 47.18,277.43 47.63,277.43 48.07,277.43 48.52,277.43 48.96,277.43 49.40,277.43 49.85,277.43 50.29,277.43 50.74,277.43 51.18,277.43 51.63,277.43 52.07,277.43 52.52,277.43 52.96,277.43 53.40,277.43 53.85,277.43 54.29,277.43 54.74,277.43 55.18,277.43 55.63,277.43 56.07,277.43 56.52,277.43 56.96,277.43 57.40,277.43 57.85,277.43 58.29,277.43 58.74,277.43 59.18,277.43 59.63,277.43 60.07,277.43 60.52,277.43 60.96,277.43 61.40,277.43 61.85,277.43 62.29,277.42 62.74,277.42 63.18,277.42 63.63,277.42 64.07,277.42 64.52,277.42 64.96,277.42 65.40,277.42 65.85,277.42 66.29,277.42 66.74,277.42 67.18,277.42 67.63,277.43 68.07,277.43 68.52,277.44 68.96,277.44 69.40,277.45 69.85,277.46 70.29,277.47 70.74,277.48 71.18,277.49 71.63,277.50 72.07,277.51 72.52,277.53 72.96,277.54 73.40,277.56 73.85,277.57 74.29,277.59 74.74,277.60 75.18,277.61 75.63,277.61 76.07,277.62 76.52,277.61 76.96,277.60 77.40,277.58 77.85,277.56 78.29,277.52 78.74,277.47 79.18,277.41 79.63,277.34 80.07,277.26 80.52,277.16 80.96,277.05 81.40,276.93 81.85,276.79 82.29,276.65 82.74,276.50 83.18,276.35 83.63,276.19 84.07,276.04 84.52,275.89 84.96,275.76 85.40,275.65 85.85,275.56 86.29,275.51 86.74,275.50 87.18,275.53 87.63,275.62 88.07,275.77 88.52,275.98 88.96,276.27 89.41,276.64 89.85,277.08 90.29,277.60 90.74,278.20 91.18,278.88 91.63,279.63 92.07,280.44 92.52,281.31 92.96,282.21 93.41,283.13 93.85,284.05 94.29,284.96 94.74,285.82 95.18,286.61 95.63,287.31 96.07,287.88 96.52,288.29 96.96,288.52 97.41,288.55 97.85,288.33 98.29,287.86 98.74,287.11 99.18,286.08 99.63,284.74 100.07,283.10 100.52,281.17 100.96,278.95 101.41,276.47 101.85,273.75 102.29,270.83 102.74,267.75 103.18,264.57 103.63,261.34 104.07,258.13 104.52,255.01 104.96,252.04 105.41,249.31 105.85,246.90 106.29,244.87 106.74,243.30 107.18,242.25 107.63,241.78 108.07,241.95 108.52,242.80 108.96,244.34 109.41,246.59 109.85,249.56 110.29,253.22 110.74,257.55 111.18,262.48 111.63,267.96 112.07,273.91 112.52,280.23 112.96,286.82 113.41,293.55 113.85,300.31 114.29,306.95 114.74,313.35 115.18,319.38 115.63,324.89 116.07,329.77 116.52,333.91 116.96,337.19 117.41,339.54 117.85,340.88 118.29,341.16 118.74,340.36 119.18,338.46 119.63,335.48 120.07,331.47 120.52,326.47 120.96,320.57 121.41,313.88 121.85,306.51 122.29,298.60 122.74,290.29 123.18,281.75 123.63,273.11 124.07,264.57 124.52,256.26 124.96,248.35 125.41,240.98 125.85,234.29 126.29,228.39 126.74,223.39 127.18,219.38 127.63,216.40 128.07,214.50 128.52,213.70 128.96,213.98 129.41,215.32 129.85,217.67 130.29,220.95 130.74,225.09 131.18,229.97 131.63,235.48 132.07,241.51 132.52,247.91 132.96,254.55 133.41,261.31 133.85,268.04 134.30,274.63 134.74,280.95 135.18,286.90 135.63,292.38 136.07,297.31 136.52,301.64 136.96,305.30 137.41,308.27 137.85,310.52 138.30,312.06 138.74,312.91 139.18,313.08 139.63,312.61 140.07,311.56 140.52,309.99 140.96,307.96 141.41,305.55 141.85,302.82 142.30,299.85 142.74,296.73 143.18,293.52 143.63,290.29 144.07,287.11 144.52,284.03 144.96,281.11 145.41,278.39 145.85,275.91 146.30,273.69 146.74,271.76 147.18,270.12 147.63,268.78 148.07,267.75 148.52,267.00 148.96,266.53 149.41,266.31 149.85,266.34 150.30,266.57 150.74,266.98 151.18,267.55 151.63,268.25 152.07,269.04 152.52,269.90 152.96,270.81 153.41,271.73 153.85,272.65 154.30,273.55 154.74,274.42 155.18,275.23 155.63,275.98 156.07,276.66 156.52,277.26 156.96,277.78 157.41,278.22 157.85,278.59 158.30,278.88 158.74,279.09 159.18,279.24 159.63,279.33 160.07,279.36 160.52,279.35 160.96,279.30 161.41,279.21 161.85,279.10 162.30,278.97 162.74,278.82 163.18,278.67 163.63,278.51 164.07,278.36 164.52,278.21 164.96,278.07 165.41,277.93 165.85,277.81 166.30,277.70 166.74,277.60 167.18,277.52 167.63,277.45 168.07,277.39 168.52,277.34 168.96,277.30 169.41,277.28 169.85,277.26 170.30,277.25 170.74,277.24 171.18,277.25 171.63,277.25 172.07,277.26 172.52,277.27 172.96,277.29 173.41,277.30 173.85,277.32 174.30,277.33 174.74,277.35 175.19,277.36 175.63,277.37 176.07,277.38 176.52,277.39 176.96,277.40 177.41,277.41 177.85,277.42 178.30,277.42 178.74,277.43 179.19,277.43 179.63,277.44 180.07,277.44 180.52,277.44 180.96,277.44 181.41,277.44 181.85,277.44 182.30,277.44 182.74,277.44 183.19,277.44 183.63,277.44 184.07,277.44 184.52,277.44 184.96,277.43 185.41,277.43 185.85,277.43 186.30,277.43 186.74,277.43 187.19,277.43 187.63,277.43 188.07,277.43 188.52,277.43 188.96,277.43 189.41,277.43 189.85,277.43 190.30,277.43 190.74,277.43 191.19,277.43 191.63,277.43 192.07,277.43 192.52,277.43 192.96,277.43 193.41,277.43 193.85,277.43 194.30,277.43 194.74,277.43 195.19,277.43 195.63,277.43 196.07,277.43 196.52,277.43 196.96,277.43 197.41,277.43 197.85,277.43 198.30,277.43 198.74,277.43 199.19,277.43 199.63,277.43 200.07,277.43 200.52,277.43 200.96,277.43 201.41,277.43 201.85,277.43 202.30,277.43 202.74,277.43 203.19,277.43 203.63,277.43 204.07,277.43 204.52,277.43 204.96,277.43 205.41,277.43 205.85,277.43 206.30,277.43 206.74,277.43 207.19,277.43 207.63,277.43 208.07,277.43 208.52,277.43 208.96,277.43 209.41,277.43 209.85,277.43 210.30,277.43 210.74,277.43 211.19,277.43 211.63,277.43 212.07,277.43" fill="none" stroke="#ff7f0e" stroke-width="0.98" stroke-linejoin="round" stroke-linecap="square"/></g>
<rect x="25.87" y="202.39" width="195.07" height="145.34" fill="none" stroke="#000" stroke-width="0.44" stroke-linecap="square"/>
<line x1="34.74" y1="347.73" x2="34.74" y2="349.64" stroke="#000" stroke-width="0.44"/>
<text x="33.03" y="355.88" font-size="6.12">0</text>
<line x1="56.96" y1="347.73" x2="56.96" y2="349.64" stroke="#000" stroke-width="0.44"/>
<text x="53.52 56.98" y="355.88" font-size="6.12">50</text>
<line x1="79.18" y1="347.73" x2="79.18" y2="349.64" stroke="#000" stroke-width="0.44"/>
<text x="73.99 77.48 80.94" y="355.88" font-size="6.12">100</text>
<line x1="101.41" y1="347.73" x2="101.41" y2="349.64" stroke="#000" stroke-width="0.44"/>
<text x="96.21 99.68 103.16" y="355.88" font-size="6.12">150</text>
<line x1="123.63" y1="347.73" x2="123.63" y2="349.64" stroke="#000" stroke-width="0.44"/>
<text x="118.41 121.93 125.37" y="355.88" font-size="6.12">200</text>
<line x1="145.85" y1="347.73" x2="145.85" y2="349.64" stroke="#000" stroke-width="0.44"/>
<text x="140.64 144.13 147.59" y="355.88" font-size="6.12">250</text>
<line x1="168.07" y1="347.73" x2="168.07" y2="349.64" stroke="#000" stroke-width="0.44"/>
<text x="162.94 166.37 169.81" y="355.88" font-size="6.12">300</text>
<line x1="190.30" y1="347.73" x2="190.30" y2="349.64" stroke="#000" stroke-width="0.44"/>
<text x="185.16 188.57 192.04" y="355.88" font-size="6.12">350</text>
<line x1="212.52" y1="347.73" x2="212.52" y2="349.64" stroke="#000" stroke-width="0.44"/>
<text x="207.38 210.82 214.26" y="355.88" font-size="6.12">400</text>
<line x1="23.96" y1="332.20" x2="25.87" y2="332.20" stroke="#000" stroke-width="0.44"/>
<text x="9.32 13.42 16.86 18.61" y="334.32" font-size="6.12">−0.6</text>
<line x1="23.96" y1="313.94" x2="25.87" y2="313.94" stroke="#000" stroke-width="0.44"/>
<text x="9.36 13.44 16.88 18.62" y="316.07" font-size="6.12">−0.4</text>
<line x1="23.96" y1="295.69" x2="25.87" y2="295.69" stroke="#000" stroke-width="0.44"/>
<text x="9.36 13.44 16.88 18.55" y="297.81" font-size="6.12">−0.2</text>
<line x1="23.96" y1="277.43" x2="25.87" y2="277.43" stroke="#000" stroke-width="0.44"/>
<text x="13.46 16.89 18.62" y="279.56" font-size="6.12">0.0</text>
<line x1="23.96" y1="259.17" x2="25.87" y2="259.17" stroke="#000" stroke-width="0.44"/>
<text x="13.46 16.89 18.55" y="261.30" font-size="6.12">0.2</text>
<line x1="23.96" y1="240.92" x2="25.87" y2="240.92" stroke="#000" stroke-width="0.44"/>
<text x="13.46 16.89 18.62" y="243.04" font-size="6.12">0.4</text>
<line x1="23.96" y1="222.66" x2="25.87" y2="222.66" stroke="#000" stroke-width="0.44"/>
<text x="13.42 16.87 18.61" y="224.79" font-size="6.12">0.6</text>
<line x1="23.96" y1="204.41" x2="25.87" y2="204.41" stroke="#000" stroke-width="0.44"/>
<text x="13.42 16.87 18.61" y="206.53" font-size="6.12">0.8</text>
<text x="87.23 90.72 94.41 99.65 103.12 104.54 107.83 110.75 112.47 116.99 118.62 120.57 124.01 125.90 127.56 130.96 135.03 138.51 141.97 145.41 147.09 149.05 151.01 153.50" y="363.57" font-size="6.12">Samples with fs=500 ---&gt;</text>
<g transform="translate(4.46,297.35) rotate(-90)"><text x="-0.18 3.83 9.07 12.54 14.05 15.68 17.63 21.06 24.49 27.78 30.70 32.38 34.34 36.30 38.79" y="0.00" font-size="6.12">Amplitudes ---&gt;</text></g>
<text x="31.54 37.34 41.59 44.12 45.80 50.06 52.38 54.17 58.62 60.75 65.07 69.05 72.73 74.76 79.01 81.57 87.78 89.83 95.23 97.18 99.51 103.61 105.69 109.72 113.75 115.82 117.81 122.04 124.14 126.05 129.84 133.46 137.25 138.93 142.86 146.35 148.97 153.85 155.92 160.04 161.78 166.09 170.16 174.31 176.26 179.60 183.00 187.37 189.05 193.09 195.71 200.59 202.62 206.77 208.85" y="199.11" font-size="7.34">Morlet Transform with no. of cycles = 4 and scale = 1.0</text>
<rect x="184.83" y="205.12" width="33.38" height="18.11" rx="1.09" fill="#fff" fill-opacity="0.8" stroke="#ccc" stroke-width="0.55"/>
<line x1="187.02" y1="209.72" x2="197.94" y2="209.72" stroke="#1f77b4" stroke-width="0.98" stroke-linecap="square"/>
<line x1="187.02" y1="217.96" x2="197.94" y2="217.96" stroke="#ff7f0e" stroke-width="0.98" stroke-linecap="square"/>
<text x="202.50 204.53 207.64 211.30" y="211.63" font-size="6.12">real</text>
<text x="202.40 203.97 208.95 212.55" y="219.87" font-size="6.12">imag</text>
<text class="cap" x="96.71" y="382.40" font-size="17.40">(d)</text></g>
<g><clipPath id="ce"><rect x="258.52" y="201.46" width="189.00" height="140.95"/></clipPath>
<mask id="me" maskUnits="userSpaceOnUse" x="0" y="0" width="685" height="386"><rect width="685" height="386" fill="#fff"/><polyline points="267.11,274.25 267.54,274.25 267.97,274.25 268.40,274.25 268.83,274.25 269.26,274.25 269.69,274.25 270.13,274.25 270.56,274.25 270.99,274.25 271.42,274.25 271.85,274.25 272.28,274.25 272.71,274.25 273.14,274.25 273.57,274.25 274.00,274.25 274.43,274.25 274.86,274.25 275.29,274.25 275.72,274.25 276.15,274.25 276.58,274.25 277.02,274.25 277.45,274.25 277.88,274.25 278.31,274.25 278.74,274.25 279.17,274.25 279.60,274.25 280.03,274.25 280.46,274.25 280.89,274.25 281.32,274.25 281.75,274.25 282.18,274.25 282.61,274.25 283.04,274.25 283.47,274.25 283.91,274.25 284.34,274.25 284.77,274.25 285.20,274.25 285.63,274.25 286.06,274.25 286.49,274.25 286.92,274.25 287.35,274.25 287.78,274.25 288.21,274.25 288.64,274.25 289.07,274.25 289.50,274.25 289.93,274.25 290.36,274.25 290.80,274.25 291.23,274.25 291.66,274.25 292.09,274.25 292.52,274.25 292.95,274.25 293.38,274.25 293.81,274.25 294.24,274.25 294.67,274.25 295.10,274.25 295.53,274.25 295.96,274.25 296.39,274.25 296.82,274.25 297.25,274.25 297.69,274.25 298.12,274.25 298.55,274.25 298.98,274.25 299.41,274.25 299.84,274.25 300.27,274.25 300.70,274.25 301.13,274.25 301.56,274.25 301.99,274.25 302.42,274.25 302.85,274.25 303.28,274.25 303.71,274.25 304.14,274.25 304.58,274.25 305.01,274.25 305.44,274.25 305.87,274.25 306.30,274.25 306.73,274.25 307.16,274.25 307.59,274.25 308.02,274.25 308.45,274.25 308.88,274.25 309.31,274.25 309.74,274.25 310.17,274.25 310.60,274.25 311.03,274.25 311.47,274.25 311.90,274.25 312.33,274.25 312.76,274.25 313.19,274.25 313.62,274.25 314.05,274.25 314.48,274.25 314.91,274.25 315.34,274.25 315.77,274.25 316.20,274.25 316.63,274.25 317.06,274.25 317.49,274.25 317.92,274.25 318.36,274.25 318.79,274.25 319.22,274.25 319.65,274.25 320.08,274.25 320.51,274.25 320.94,274.25 321.37,274.25 321.80,274.25 322.23,274.25 322.66,274.25 323.09,274.25 323.52,274.24 323.95,274.24 324.38,274.24 324.81,274.24 325.25,274.24 325.68,274.24 326.11,274.25 326.54,274.26 326.97,274.27 327.40,274.29 327.83,274.31 328.26,274.34 328.69,274.37 329.12,274.40 329.55,274.42 329.98,274.43 330.41,274.42 330.84,274.39 331.27,274.32 331.70,274.20 332.14,274.04 332.57,273.82 333.00,273.56 333.43,273.27 333.86,272.97 334.29,272.69 334.72,272.47 335.15,272.37 335.58,272.44 336.01,272.73 336.44,273.29 336.87,274.15 337.30,275.33 337.73,276.78 338.16,278.46 338.59,280.26 339.03,282.02 339.46,283.55 339.89,284.66 340.32,285.10 340.75,284.68 341.18,283.22 341.61,280.62 342.04,276.85 342.47,272.01 342.90,266.33 343.33,260.14 343.76,253.90 344.19,248.14 344.62,243.44 345.05,240.39 345.48,239.50 345.92,241.15 346.35,245.55 346.78,252.68 347.21,262.29 347.64,273.86 348.07,286.68 348.50,299.81 348.93,312.26 349.36,322.99 349.79,331.02 350.22,335.58 350.65,336.13 351.08,332.43 351.51,324.61 351.94,313.14 352.37,298.81 352.81,282.64 353.24,265.86 353.67,249.69 354.10,235.36 354.53,223.89 354.96,216.07 355.39,212.37 355.82,212.92 356.25,217.48 356.68,225.51 357.11,236.24 357.54,248.69 357.97,261.82 358.40,274.64 358.83,286.21 359.26,295.82 359.70,302.95 360.13,307.35 360.56,309.00 360.99,308.11 361.42,305.06 361.85,300.36 362.28,294.60 362.71,288.36 363.14,282.17 363.57,276.49 364.00,271.65 364.43,267.88 364.86,265.28 365.29,263.82 365.72,263.40 366.15,263.84 366.59,264.95 367.02,266.48 367.45,268.24 367.88,270.04 368.31,271.72 368.74,273.17 369.17,274.35 369.60,275.21 370.03,275.77 370.46,276.06 370.89,276.13 371.32,276.03 371.75,275.81 372.18,275.53 372.61,275.23 373.04,274.94 373.48,274.68 373.91,274.46 374.34,274.30 374.77,274.18 375.20,274.11 375.63,274.08 376.06,274.07 376.49,274.08 376.92,274.10 377.35,274.13 377.78,274.16 378.21,274.19 378.64,274.21 379.07,274.23 379.50,274.24 379.93,274.25 380.37,274.26 380.80,274.26 381.23,274.26 381.66,274.26 382.09,274.26 382.52,274.26 382.95,274.25 383.38,274.25 383.81,274.25 384.24,274.25 384.67,274.25 385.10,274.25 385.53,274.25 385.96,274.25 386.39,274.25 386.82,274.25 387.25,274.25 387.69,274.25 388.12,274.25 388.55,274.25 388.98,274.25 389.41,274.25 389.84,274.25 390.27,274.25 390.70,274.25 391.13,274.25 391.56,274.25 391.99,274.25 392.42,274.25 392.85,274.25 393.28,274.25 393.71,274.25 394.14,274.25 394.58,274.25 395.01,274.25 395.44,274.25 395.87,274.25 396.30,274.25 396.73,274.25 397.16,274.25 397.59,274.25 398.02,274.25 398.45,274.25 398.88,274.25 399.31,274.25 399.74,274.25 400.17,274.25 400.60,274.25 401.03,274.25 401.47,274.25 401.90,274.25 402.33,274.25 402.76,274.25 403.19,274.25 403.62,274.25 404.05,274.25 404.48,274.25 404.91,274.25 405.34,274.25 405.77,274.25 406.20,274.25 406.63,274.25 407.06,274.25 407.49,274.25 407.92,274.25 408.36,274.25 408.79,274.25 409.22,274.25 409.65,274.25 410.08,274.25 410.51,274.25 410.94,274.25 411.37,274.25 411.80,274.25 412.23,274.25 412.66,274.25 413.09,274.25 413.52,274.25 413.95,274.25 414.38,274.25 414.81,274.25 415.25,274.25 415.68,274.25 416.11,274.25 416.54,274.25 416.97,274.25 417.40,274.25 417.83,274.25 418.26,274.25 418.69,274.25 419.12,274.25 419.55,274.25 419.98,274.25 420.41,274.25 420.84,274.25 421.27,274.25 421.70,274.25 422.14,274.25 422.57,274.25 423.00,274.25 423.43,274.25 423.86,274.25 424.29,274.25 424.72,274.25 425.15,274.25 425.58,274.25 426.01,274.25 426.44,274.25 426.87,274.25 427.30,274.25 427.73,274.25 428.16,274.25 428.59,274.25 429.03,274.25 429.46,274.25 429.89,274.25 430.32,274.25 430.75,274.25 431.18,274.25 431.61,274.25 432.04,274.25 432.47,274.25 432.90,274.25 433.33,274.25 433.76,274.25 434.19,274.25 434.62,274.25 435.05,274.25 435.48,274.25 435.92,274.25 436.35,274.25 436.78,274.25 437.21,274.25 437.64,274.25 438.07,274.25 438.50,274.25 438.93,274.25" fill="none" stroke="#000" stroke-width="0.95" stroke-linejoin="round"/></mask>
<g clip-path="url(#ce)"><polyline mask="url(#me)" points="267.11,274.25 267.54,274.25 267.97,274.25 268.40,274.25 268.83,274.25 269.26,274.25 269.69,274.25 270.13,274.25 270.56,274.25 270.99,274.25 271.42,274.25 271.85,274.25 272.28,274.25 272.71,274.25 273.14,274.25 273.57,274.25 274.00,274.25 274.43,274.25 274.86,274.25 275.29,274.25 275.72,274.25 276.15,274.25 276.58,274.25 277.02,274.25 277.45,274.25 277.88,274.25 278.31,274.25 278.74,274.25 279.17,274.25 279.60,274.25 280.03,274.25 280.46,274.25 280.89,274.25 281.32,274.25 281.75,274.25 282.18,274.25 282.61,274.25 283.04,274.25 283.47,274.25 283.91,274.25 284.34,274.25 284.77,274.25 285.20,274.25 285.63,274.25 286.06,274.25 286.49,274.25 286.92,274.25 287.35,274.25 287.78,274.25 288.21,274.25 288.64,274.25 289.07,274.25 289.50,274.25 289.93,274.25 290.36,274.25 290.80,274.25 291.23,274.25 291.66,274.25 292.09,274.25 292.52,274.25 292.95,274.25 293.38,274.25 293.81,274.25 294.24,274.25 294.67,274.25 295.10,274.25 295.53,274.25 295.96,274.25 296.39,274.25 296.82,274.25 297.25,274.25 297.69,274.25 298.12,274.25 298.55,274.25 298.98,274.25 299.41,274.25 299.84,274.25 300.27,274.25 300.70,274.25 301.13,274.25 301.56,274.25 301.99,274.25 302.42,274.25 302.85,274.25 303.28,274.25 303.71,274.25 304.14,274.25 304.58,274.25 305.01,274.25 305.44,274.25 305.87,274.25 306.30,274.25 306.73,274.25 307.16,274.25 307.59,274.25 308.02,274.25 308.45,274.25 308.88,274.25 309.31,274.25 309.74,274.25 310.17,274.25 310.60,274.25 311.03,274.25 311.47,274.25 311.90,274.25 312.33,274.25 312.76,274.25 313.19,274.25 313.62,274.25 314.05,274.25 314.48,274.25 314.91,274.25 315.34,274.25 315.77,274.25 316.20,274.25 316.63,274.25 317.06,274.25 317.49,274.25 317.92,274.25 318.36,274.25 318.79,274.25 319.22,274.25 319.65,274.25 320.08,274.25 320.51,274.25 320.94,274.25 321.37,274.25 321.80,274.25 322.23,274.25 322.66,274.25 323.09,274.25 323.52,274.25 323.95,274.25 324.38,274.26 324.81,274.26 325.25,274.26 325.68,274.27 326.11,274.28 326.54,274.29 326.97,274.29 327.40,274.29 327.83,274.29 328.26,274.28 328.69,274.26 329.12,274.23 329.55,274.18 329.98,274.11 330.41,274.03 330.84,273.93 331.27,273.83 331.70,273.73 332.14,273.66 332.57,273.62 333.00,273.65 333.43,273.75 333.86,273.97 334.29,274.31 334.72,274.78 335.15,275.38 335.58,276.09 336.01,276.87 336.44,277.65 336.87,278.36 337.30,278.88 337.73,279.12 338.16,278.94 338.59,278.25 339.03,276.95 339.46,275.02 339.89,272.47 340.32,269.39 340.75,265.94 341.18,262.35 341.61,258.93 342.04,256.04 342.47,254.06 342.90,253.36 343.33,254.25 343.76,256.95 344.19,261.56 344.62,267.99 345.05,276.00 345.48,285.13 345.92,294.79 346.35,304.24 346.78,312.67 347.21,319.27 347.64,323.29 348.07,324.16 348.50,321.51 348.93,315.24 349.36,305.57 349.79,293.01 350.22,278.38 350.65,262.69 351.08,247.10 351.51,232.80 351.94,220.92 352.37,212.42 352.81,207.99 353.24,207.99 353.67,212.42 354.10,220.92 354.53,232.80 354.96,247.10 355.39,262.69 355.82,278.38 356.25,293.01 356.68,305.57 357.11,315.24 357.54,321.51 357.97,324.16 358.40,323.29 358.83,319.27 359.26,312.67 359.70,304.24 360.13,294.79 360.56,285.13 360.99,276.00 361.42,267.99 361.85,261.56 362.28,256.95 362.71,254.25 363.14,253.36 363.57,254.06 364.00,256.04 364.43,258.93 364.86,262.35 365.29,265.94 365.72,269.39 366.15,272.47 366.59,275.02 367.02,276.95 367.45,278.25 367.88,278.94 368.31,279.12 368.74,278.88 369.17,278.36 369.60,277.65 370.03,276.87 370.46,276.09 370.89,275.38 371.32,274.78 371.75,274.31 372.18,273.97 372.61,273.75 373.04,273.65 373.48,273.62 373.91,273.66 374.34,273.73 374.77,273.83 375.20,273.93 375.63,274.03 376.06,274.11 376.49,274.18 376.92,274.23 377.35,274.26 377.78,274.28 378.21,274.29 378.64,274.29 379.07,274.29 379.50,274.29 379.93,274.28 380.37,274.27 380.80,274.26 381.23,274.26 381.66,274.26 382.09,274.25 382.52,274.25 382.95,274.25 383.38,274.25 383.81,274.25 384.24,274.25 384.67,274.25 385.10,274.25 385.53,274.25 385.96,274.25 386.39,274.25 386.82,274.25 387.25,274.25 387.69,274.25 388.12,274.25 388.55,274.25 388.98,274.25 389.41,274.25 389.84,274.25 390.27,274.25 390.70,274.25 391.13,274.25 391.56,274.25 391.99,274.25 392.42,274.25 392.85,274.25 393.28,274.25 393.71,274.25 394.14,274.25 394.58,274.25 395.01,274.25 395.44,274.25 395.87,274.25 396.30,274.25 396.73,274.25 397.16,274.25 397.59,274.25 398.02,274.25 398.45,274.25 398.88,274.25 399.31,274.25 399.74,274.25 400.17,274.25 400.60,274.25 401.03,274.25 401.47,274.25 401.90,274.25 402.33,274.25 402.76,274.25 403.19,274.25 403.62,274.25 404.05,274.25 404.48,274.25 404.91,274.25 405.34,274.25 405.77,274.25 406.20,274.25 406.63,274.25 407.06,274.25 407.49,274.25 407.92,274.25 408.36,274.25 408.79,274.25 409.22,274.25 409.65,274.25 410.08,274.25 410.51,274.25 410.94,274.25 411.37,274.25 411.80,274.25 412.23,274.25 412.66,274.25 413.09,274.25 413.52,274.25 413.95,274.25 414.38,274.25 414.81,274.25 415.25,274.25 415.68,274.25 416.11,274.25 416.54,274.25 416.97,274.25 417.40,274.25 417.83,274.25 418.26,274.25 418.69,274.25 419.12,274.25 419.55,274.25 419.98,274.25 420.41,274.25 420.84,274.25 421.27,274.25 421.70,274.25 422.14,274.25 422.57,274.25 423.00,274.25 423.43,274.25 423.86,274.25 424.29,274.25 424.72,274.25 425.15,274.25 425.58,274.25 426.01,274.25 426.44,274.25 426.87,274.25 427.30,274.25 427.73,274.25 428.16,274.25 428.59,274.25 429.03,274.25 429.46,274.25 429.89,274.25 430.32,274.25 430.75,274.25 431.18,274.25 431.61,274.25 432.04,274.25 432.47,274.25 432.90,274.25 433.33,274.25 433.76,274.25 434.19,274.25 434.62,274.25 435.05,274.25 435.48,274.25 435.92,274.25 436.35,274.25 436.78,274.25 437.21,274.25 437.64,274.25 438.07,274.25 438.50,274.25 438.93,274.25" fill="none" stroke="#1f77b4" stroke-width="0.95" stroke-linejoin="round" stroke-linecap="square"/>
<polyline points="267.11,274.25 267.54,274.25 267.97,274.25 268.40,274.25 268.83,274.25 269.26,274.25 269.69,274.25 270.13,274.25 270.56,274.25 270.99,274.25 271.42,274.25 271.85,274.25 272.28,274.25 272.71,274.25 273.14,274.25 273.57,274.25 274.00,274.25 274.43,274.25 274.86,274.25 275.29,274.25 275.72,274.25 276.15,274.25 276.58,274.25 277.02,274.25 277.45,274.25 277.88,274.25 278.31,274.25 278.74,274.25 279.17,274.25 279.60,274.25 280.03,274.25 280.46,274.25 280.89,274.25 281.32,274.25 281.75,274.25 282.18,274.25 282.61,274.25 283.04,274.25 283.47,274.25 283.91,274.25 284.34,274.25 284.77,274.25 285.20,274.25 285.63,274.25 286.06,274.25 286.49,274.25 286.92,274.25 287.35,274.25 287.78,274.25 288.21,274.25 288.64,274.25 289.07,274.25 289.50,274.25 289.93,274.25 290.36,274.25 290.80,274.25 291.23,274.25 291.66,274.25 292.09,274.25 292.52,274.25 292.95,274.25 293.38,274.25 293.81,274.25 294.24,274.25 294.67,274.25 295.10,274.25 295.53,274.25 295.96,274.25 296.39,274.25 296.82,274.25 297.25,274.25 297.69,274.25 298.12,274.25 298.55,274.25 298.98,274.25 299.41,274.25 299.84,274.25 300.27,274.25 300.70,274.25 301.13,274.25 301.56,274.25 301.99,274.25 302.42,274.25 302.85,274.25 303.28,274.25 303.71,274.25 304.14,274.25 304.58,274.25 305.01,274.25 305.44,274.25 305.87,274.25 306.30,274.25 306.73,274.25 307.16,274.25 307.59,274.25 308.02,274.25 308.45,274.25 308.88,274.25 309.31,274.25 309.74,274.25 310.17,274.25 310.60,274.25 311.03,274.25 311.47,274.25 311.90,274.25 312.33,274.25 312.76,274.25 313.19,274.25 313.62,274.25 314.05,274.25 314.48,274.25 314.91,274.25 315.34,274.25 315.77,274.25 316.20,274.25 316.63,274.25 317.06,274.25 317.49,274.25 317.92,274.25 318.36,274.25 318.79,274.25 319.22,274.25 319.65,274.25 320.08,274.25 320.51,274.25 320.94,274.25 321.37,274.25 321.80,274.25 322.23,274.25 322.66,274.25 323.09,274.25 323.52,274.24 323.95,274.24 324.38,274.24 324.81,274.24 325.25,274.24 325.68,274.24 326.11,274.25 326.54,274.26 326.97,274.27 327.40,274.29 327.83,274.31 328.26,274.34 328.69,274.37 329.12,274.40 329.55,274.42 329.98,274.43 330.41,274.42 330.84,274.39 331.27,274.32 331.70,274.20 332.14,274.04 332.57,273.82 333.00,273.56 333.43,273.27 333.86,272.97 334.29,272.69 334.72,272.47 335.15,272.37 335.58,272.44 336.01,272.73 336.44,273.29 336.87,274.15 337.30,275.33 337.73,276.78 338.16,278.46 338.59,280.26 339.03,282.02 339.46,283.55 339.89,284.66 340.32,285.10 340.75,284.68 341.18,283.22 341.61,280.62 342.04,276.85 342.47,272.01 342.90,266.33 343.33,260.14 343.76,253.90 344.19,248.14 344.62,243.44 345.05,240.39 345.48,239.50 345.92,241.15 346.35,245.55 346.78,252.68 347.21,262.29 347.64,273.86 348.07,286.68 348.50,299.81 348.93,312.26 349.36,322.99 349.79,331.02 350.22,335.58 350.65,336.13 351.08,332.43 351.51,324.61 351.94,313.14 352.37,298.81 352.81,282.64 353.24,265.86 353.67,249.69 354.10,235.36 354.53,223.89 354.96,216.07 355.39,212.37 355.82,212.92 356.25,217.48 356.68,225.51 357.11,236.24 357.54,248.69 357.97,261.82 358.40,274.64 358.83,286.21 359.26,295.82 359.70,302.95 360.13,307.35 360.56,309.00 360.99,308.11 361.42,305.06 361.85,300.36 362.28,294.60 362.71,288.36 363.14,282.17 363.57,276.49 364.00,271.65 364.43,267.88 364.86,265.28 365.29,263.82 365.72,263.40 366.15,263.84 366.59,264.95 367.02,266.48 367.45,268.24 367.88,270.04 368.31,271.72 368.74,273.17 369.17,274.35 369.60,275.21 370.03,275.77 370.46,276.06 370.89,276.13 371.32,276.03 371.75,275.81 372.18,275.53 372.61,275.23 373.04,274.94 373.48,274.68 373.91,274.46 374.34,274.30 374.77,274.18 375.20,274.11 375.63,274.08 376.06,274.07 376.49,274.08 376.92,274.10 377.35,274.13 377.78,274.16 378.21,274.19 378.64,274.21 379.07,274.23 379.50,274.24 379.93,274.25 380.37,274.26 380.80,274.26 381.23,274.26 381.66,274.26 382.09,274.26 382.52,274.26 382.95,274.25 383.38,274.25 383.81,274.25 384.24,274.25 384.67,274.25 385.10,274.25 385.53,274.25 385.96,274.25 386.39,274.25 386.82,274.25 387.25,274.25 387.69,274.25 388.12,274.25 388.55,274.25 388.98,274.25 389.41,274.25 389.84,274.25 390.27,274.25 390.70,274.25 391.13,274.25 391.56,274.25 391.99,274.25 392.42,274.25 392.85,274.25 393.28,274.25 393.71,274.25 394.14,274.25 394.58,274.25 395.01,274.25 395.44,274.25 395.87,274.25 396.30,274.25 396.73,274.25 397.16,274.25 397.59,274.25 398.02,274.25 398.45,274.25 398.88,274.25 399.31,274.25 399.74,274.25 400.17,274.25 400.60,274.25 401.03,274.25 401.47,274.25 401.90,274.25 402.33,274.25 402.76,274.25 403.19,274.25 403.62,274.25 404.05,274.25 404.48,274.25 404.91,274.25 405.34,274.25 405.77,274.25 406.20,274.25 406.63,274.25 407.06,274.25 407.49,274.25 407.92,274.25 408.36,274.25 408.79,274.25 409.22,274.25 409.65,274.25 410.08,274.25 410.51,274.25 410.94,274.25 411.37,274.25 411.80,274.25 412.23,274.25 412.66,274.25 413.09,274.25 413.52,274.25 413.95,274.25 414.38,274.25 414.81,274.25 415.25,274.25 415.68,274.25 416.11,274.25 416.54,274.25 416.97,274.25 417.40,274.25 417.83,274.25 418.26,274.25 418.69,274.25 419.12,274.25 419.55,274.25 419.98,274.25 420.41,274.25 420.84,274.25 421.27,274.25 421.70,274.25 422.14,274.25 422.57,274.25 423.00,274.25 423.43,274.25 423.86,274.25 424.29,274.25 424.72,274.25 425.15,274.25 425.58,274.25 426.01,274.25 426.44,274.25 426.87,274.25 427.30,274.25 427.73,274.25 428.16,274.25 428.59,274.25 429.03,274.25 429.46,274.25 429.89,274.25 430.32,274.25 430.75,274.25 431.18,274.25 431.61,274.25 432.04,274.25 432.47,274.25 432.90,274.25 433.33,274.25 433.76,274.25 434.19,274.25 434.62,274.25 435.05,274.25 435.48,274.25 435.92,274.25 436.35,274.25 436.78,274.25 437.21,274.25 437.64,274.25 438.07,274.25 438.50,274.25 438.93,274.25" fill="none" stroke="#ff7f0e" stroke-width="0.95" stroke-linejoin="round" stroke-linecap="square"/></g>
<rect x="258.52" y="201.46" width="189.00" height="140.95" fill="none" stroke="#000" stroke-width="0.42" stroke-linecap="square"/>
<line x1="267.11" y1="342.41" x2="267.11" y2="344.26" stroke="#000" stroke-width="0.42"/>
<text x="265.46" y="350.31" font-size="5.93">0</text>
<line x1="288.64" y1="342.41" x2="288.64" y2="344.26" stroke="#000" stroke-width="0.42"/>
<text x="285.30 288.66" y="350.31" font-size="5.93">50</text>
<line x1="310.17" y1="342.41" x2="310.17" y2="344.26" stroke="#000" stroke-width="0.42"/>
<text x="305.14 308.52 311.87" y="350.31" font-size="5.93">100</text>
<line x1="331.70" y1="342.41" x2="331.70" y2="344.26" stroke="#000" stroke-width="0.42"/>
<text x="326.67 330.03 333.40" y="350.31" font-size="5.93">150</text>
<line x1="353.24" y1="342.41" x2="353.24" y2="344.26" stroke="#000" stroke-width="0.42"/>
<text x="348.18 351.58 354.92" y="350.31" font-size="5.93">200</text>
<line x1="374.77" y1="342.41" x2="374.77" y2="344.26" stroke="#000" stroke-width="0.42"/>
<text x="369.71 373.10 376.45" y="350.31" font-size="5.93">250</text>
<line x1="396.30" y1="342.41" x2="396.30" y2="344.26" stroke="#000" stroke-width="0.42"/>
<text x="391.32 394.65 397.98" y="350.31" font-size="5.93">300</text>
<line x1="417.83" y1="342.41" x2="417.83" y2="344.26" stroke="#000" stroke-width="0.42"/>
<text x="412.85 416.16 419.51" y="350.31" font-size="5.93">350</text>
<line x1="439.36" y1="342.41" x2="439.36" y2="344.26" stroke="#000" stroke-width="0.42"/>
<text x="434.38 437.71 441.04" y="350.31" font-size="5.93">400</text>
<line x1="256.67" y1="327.65" x2="258.52" y2="327.65" stroke="#000" stroke-width="0.42"/>
<text x="242.48 246.45 249.79 251.48" y="329.62" font-size="5.93">−0.6</text>
<line x1="256.67" y1="309.85" x2="258.52" y2="309.85" stroke="#000" stroke-width="0.42"/>
<text x="242.52 246.48 249.81 251.49" y="311.82" font-size="5.93">−0.4</text>
<line x1="256.67" y1="292.05" x2="258.52" y2="292.05" stroke="#000" stroke-width="0.42"/>
<text x="242.52 246.48 249.81 251.42" y="294.02" font-size="5.93">−0.2</text>
<line x1="256.67" y1="274.25" x2="258.52" y2="274.25" stroke="#000" stroke-width="0.42"/>
<text x="246.50 249.82 251.50" y="276.22" font-size="5.93">0.0</text>
<line x1="256.67" y1="256.45" x2="258.52" y2="256.45" stroke="#000" stroke-width="0.42"/>
<text x="246.50 249.82 251.43" y="258.43" font-size="5.93">0.2</text>
<line x1="256.67" y1="238.65" x2="258.52" y2="238.65" stroke="#000" stroke-width="0.42"/>
<text x="246.50 249.82 251.50" y="240.63" font-size="5.93">0.4</text>
<line x1="256.67" y1="220.85" x2="258.52" y2="220.85" stroke="#000" stroke-width="0.42"/>
<text x="246.46 249.80 251.49" y="222.83" font-size="5.93">0.6</text>
<line x1="256.67" y1="203.06" x2="258.52" y2="203.06" stroke="#000" stroke-width="0.42"/>
<text x="246.46 249.80 251.49" y="205.03" font-size="5.93">0.8</text>
<text x="317.97 321.35 324.93 330.00 333.37 334.74 337.93 340.75 342.42 346.80 348.38 350.27 353.60 355.43 357.05 360.34 364.28 367.65 371.00 374.34 375.96 377.87 379.77 382.18" y="357.77" font-size="5.93">Samples with fs=500 ---&gt;</text>
<g transform="translate(237.74,293.55) rotate(-90)"><text x="-0.17 3.72 8.80 12.16 13.63 15.21 17.10 20.42 23.76 26.95 29.78 31.40 33.30 35.21 37.62" y="0.00" font-size="5.93">Amplitudes ---&gt;</text></g>
<text x="264.01 269.63 273.74 276.20 277.83 281.95 284.20 285.94 290.25 292.31 296.49 300.36 303.92 305.89 310.00 312.49 318.51 320.49 325.72 327.61 329.86 333.84 335.86 339.76 343.67 345.67 347.60 351.70 353.73 355.58 359.25 362.76 366.43 368.06 371.87 375.25 377.79 382.51 384.52 388.51 390.20 394.38 398.32 402.34 404.23 407.47 410.75 414.99 416.62 420.53 423.08 427.80 429.72 433.79 435.80" y="199.03" font-size="7.12">Morlet Transform with no. of cycles = 4 and scale = 2.0</text>
<rect x="412.53" y="204.11" width="32.34" height="17.56" rx="1.06" fill="#fff" fill-opacity="0.8" stroke="#ccc" stroke-width="0.53"/>
<line x1="414.65" y1="208.57" x2="425.23" y2="208.57" stroke="#1f77b4" stroke-width="0.95" stroke-linecap="square"/>
<line x1="414.65" y1="216.56" x2="425.23" y2="216.56" stroke="#ff7f0e" stroke-width="0.95" stroke-linecap="square"/>
<text x="429.66 431.62 434.63 438.18" y="210.42" font-size="5.93">real</text>
<text x="429.55 431.08 435.90 439.39" y="218.41" font-size="5.93">imag</text>
<text class="cap" x="329.29" y="377.00" font-size="17.40">(e)</text></g>
<g><clipPath id="cf"><rect x="491.63" y="201.94" width="184.77" height="137.47"/></clipPath>
<mask id="mf" maskUnits="userSpaceOnUse" x="0" y="0" width="685" height="386"><rect width="685" height="386" fill="#fff"/><polyline points="500.03,272.53 500.45,272.53 500.87,272.53 501.29,272.53 501.71,272.53 502.13,272.53 502.55,272.53 502.98,272.53 503.40,272.53 503.82,272.53 504.24,272.53 504.66,272.53 505.08,272.53 505.50,272.53 505.92,272.53 506.34,272.53 506.76,272.53 507.19,272.53 507.61,272.53 508.03,272.53 508.45,272.53 508.87,272.53 509.29,272.53 509.71,272.53 510.13,272.53 510.55,272.53 510.97,272.53 511.40,272.53 511.82,272.53 512.24,272.53 512.66,272.53 513.08,272.53 513.50,272.53 513.92,272.53 514.34,272.53 514.76,272.53 515.18,272.53 515.61,272.53 516.03,272.53 516.45,272.53 516.87,272.53 517.29,272.53 517.71,272.53 518.13,272.53 518.55,272.53 518.97,272.53 519.39,272.53 519.81,272.53 520.24,272.53 520.66,272.53 521.08,272.53 521.50,272.53 521.92,272.53 522.34,272.53 522.76,272.53 523.18,272.53 523.60,272.53 524.02,272.53 524.45,272.53 524.87,272.53 525.29,272.53 525.71,272.53 526.13,272.53 526.55,272.53 526.97,272.53 527.39,272.53 527.81,272.53 528.23,272.53 528.66,272.53 529.08,272.53 529.50,272.53 529.92,272.53 530.34,272.53 530.76,272.53 531.18,272.53 531.60,272.53 532.02,272.53 532.44,272.53 532.87,272.53 533.29,272.53 533.71,272.53 534.13,272.53 534.55,272.53 534.97,272.53 535.39,272.53 535.81,272.53 536.23,272.53 536.65,272.53 537.08,272.53 537.50,272.53 537.92,272.53 538.34,272.53 538.76,272.53 539.18,272.53 539.60,272.53 540.02,272.53 540.44,272.53 540.86,272.53 541.29,272.53 541.71,272.53 542.13,272.53 542.55,272.53 542.97,272.53 543.39,272.53 543.81,272.53 544.23,272.53 544.65,272.53 545.07,272.53 545.49,272.53 545.92,272.53 546.34,272.53 546.76,272.53 547.18,272.53 547.60,272.53 548.02,272.53 548.44,272.53 548.86,272.53 549.28,272.53 549.70,272.53 550.13,272.53 550.55,272.53 550.97,272.53 551.39,272.53 551.81,272.53 552.23,272.53 552.65,272.53 553.07,272.53 553.49,272.53 553.91,272.53 554.34,272.53 554.76,272.53 555.18,272.53 555.60,272.53 556.02,272.53 556.44,272.53 556.86,272.53 557.28,272.53 557.70,272.53 558.12,272.53 558.55,272.53 558.97,272.53 559.39,272.53 559.81,272.53 560.23,272.53 560.65,272.53 561.07,272.53 561.49,272.53 561.91,272.53 562.33,272.53 562.76,272.53 563.18,272.53 563.60,272.53 564.02,272.53 564.44,272.53 564.86,272.52 565.28,272.52 565.70,272.52 566.12,272.52 566.54,272.53 566.97,272.55 567.39,272.57 567.81,272.61 568.23,272.65 568.65,272.69 569.07,272.71 569.49,272.68 569.91,272.57 570.33,272.37 570.75,272.05 571.17,271.64 571.60,271.19 572.02,270.82 572.44,270.68 572.86,270.94 573.28,271.77 573.70,273.27 574.12,275.42 574.54,278.00 574.96,280.59 575.38,282.56 575.81,283.20 576.23,281.83 576.65,277.98 577.07,271.61 577.49,263.24 577.91,254.00 578.33,245.54 578.75,239.76 579.17,238.47 579.59,242.92 580.02,253.44 580.44,269.15 580.86,288.01 581.28,307.02 581.70,322.78 582.12,332.16 582.54,332.94 582.96,324.41 583.38,307.53 583.80,284.88 584.23,260.18 584.65,237.53 585.07,220.65 585.49,212.12 585.91,212.90 586.33,222.28 586.75,238.04 587.17,257.05 587.59,275.91 588.01,291.62 588.44,302.14 588.86,306.59 589.28,305.30 589.70,299.52 590.12,291.06 590.54,281.82 590.96,273.45 591.38,267.08 591.80,263.23 592.22,261.86 592.65,262.50 593.07,264.47 593.49,267.06 593.91,269.64 594.33,271.79 594.75,273.29 595.17,274.12 595.59,274.38 596.01,274.24 596.43,273.87 596.85,273.42 597.28,273.01 597.70,272.69 598.12,272.49 598.54,272.38 598.96,272.35 599.38,272.37 599.80,272.41 600.22,272.45 600.64,272.49 601.06,272.51 601.49,272.53 601.91,272.54 602.33,272.54 602.75,272.54 603.17,272.54 603.59,272.53 604.01,272.53 604.43,272.53 604.85,272.53 605.27,272.53 605.70,272.53 606.12,272.53 606.54,272.53 606.96,272.53 607.38,272.53 607.80,272.53 608.22,272.53 608.64,272.53 609.06,272.53 609.48,272.53 609.91,272.53 610.33,272.53 610.75,272.53 611.17,272.53 611.59,272.53 612.01,272.53 612.43,272.53 612.85,272.53 613.27,272.53 613.69,272.53 614.12,272.53 614.54,272.53 614.96,272.53 615.38,272.53 615.80,272.53 616.22,272.53 616.64,272.53 617.06,272.53 617.48,272.53 617.90,272.53 618.33,272.53 618.75,272.53 619.17,272.53 619.59,272.53 620.01,272.53 620.43,272.53 620.85,272.53 621.27,272.53 621.69,272.53 622.11,272.53 622.54,272.53 622.96,272.53 623.38,272.53 623.80,272.53 624.22,272.53 624.64,272.53 625.06,272.53 625.48,272.53 625.90,272.53 626.32,272.53 626.74,272.53 627.17,272.53 627.59,272.53 628.01,272.53 628.43,272.53 628.85,272.53 629.27,272.53 629.69,272.53 630.11,272.53 630.53,272.53 630.95,272.53 631.38,272.53 631.80,272.53 632.22,272.53 632.64,272.53 633.06,272.53 633.48,272.53 633.90,272.53 634.32,272.53 634.74,272.53 635.16,272.53 635.59,272.53 636.01,272.53 636.43,272.53 636.85,272.53 637.27,272.53 637.69,272.53 638.11,272.53 638.53,272.53 638.95,272.53 639.37,272.53 639.80,272.53 640.22,272.53 640.64,272.53 641.06,272.53 641.48,272.53 641.90,272.53 642.32,272.53 642.74,272.53 643.16,272.53 643.58,272.53 644.01,272.53 644.43,272.53 644.85,272.53 645.27,272.53 645.69,272.53 646.11,272.53 646.53,272.53 646.95,272.53 647.37,272.53 647.79,272.53 648.22,272.53 648.64,272.53 649.06,272.53 649.48,272.53 649.90,272.53 650.32,272.53 650.74,272.53 651.16,272.53 651.58,272.53 652.00,272.53 652.42,272.53 652.85,272.53 653.27,272.53 653.69,272.53 654.11,272.53 654.53,272.53 654.95,272.53 655.37,272.53 655.79,272.53 656.21,272.53 656.63,272.53 657.06,272.53 657.48,272.53 657.90,272.53 658.32,272.53 658.74,272.53 659.16,272.53 659.58,272.53 660.00,272.53 660.42,272.53 660.84,272.53 661.27,272.53 661.69,272.53 662.11,272.53 662.53,272.53 662.95,272.53 663.37,272.53 663.79,272.53 664.21,272.53 664.63,272.53 665.05,272.53 665.48,272.53 665.90,272.53 666.32,272.53 666.74,272.53 667.16,272.53 667.58,272.53 668.00,272.53" fill="none" stroke="#000" stroke-width="0.93" stroke-linejoin="round"/></mask>
<g clip-path="url(#cf)"><polyline mask="url(#mf)" points="500.03,272.53 500.45,272.53 500.87,272.53 501.29,272.53 501.71,272.53 502.13,272.53 502.55,272.53 502.98,272.53 503.40,272.53 503.82,272.53 504.24,272.53 504.66,272.53 505.08,272.53 505.50,272.53 505.92,272.53 506.34,272.53 506.76,272.53 507.19,272.53 507.61,272.53 508.03,272.53 508.45,272.53 508.87,272.53 509.29,272.53 509.71,272.53 510.13,272.53 510.55,272.53 510.97,272.53 511.40,272.53 511.82,272.53 512.24,272.53 512.66,272.53 513.08,272.53 513.50,272.53 513.92,272.53 514.34,272.53 514.76,272.53 515.18,272.53 515.61,272.53 516.03,272.53 516.45,272.53 516.87,272.53 517.29,272.53 517.71,272.53 518.13,272.53 518.55,272.53 518.97,272.53 519.39,272.53 519.81,272.53 520.24,272.53 520.66,272.53 521.08,272.53 521.50,272.53 521.92,272.53 522.34,272.53 522.76,272.53 523.18,272.53 523.60,272.53 524.02,272.53 524.45,272.53 524.87,272.53 525.29,272.53 525.71,272.53 526.13,272.53 526.55,272.53 526.97,272.53 527.39,272.53 527.81,272.53 528.23,272.53 528.66,272.53 529.08,272.53 529.50,272.53 529.92,272.53 530.34,272.53 530.76,272.53 531.18,272.53 531.60,272.53 532.02,272.53 532.44,272.53 532.87,272.53 533.29,272.53 533.71,272.53 534.13,272.53 534.55,272.53 534.97,272.53 535.39,272.53 535.81,272.53 536.23,272.53 536.65,272.53 537.08,272.53 537.50,272.53 537.92,272.53 538.34,272.53 538.76,272.53 539.18,272.53 539.60,272.53 540.02,272.53 540.44,272.53 540.86,272.53 541.29,272.53 541.71,272.53 542.13,272.53 542.55,272.53 542.97,272.53 543.39,272.53 543.81,272.53 544.23,272.53 544.65,272.53 545.07,272.53 545.49,272.53 545.92,272.53 546.34,272.53 546.76,272.53 547.18,272.53 547.60,272.53 548.02,272.53 548.44,272.53 548.86,272.53 549.28,272.53 549.70,272.53 550.13,272.53 550.55,272.53 550.97,272.53 551.39,272.53 551.81,272.53 552.23,272.53 552.65,272.53 553.07,272.53 553.49,272.53 553.91,272.53 554.34,272.53 554.76,272.53 555.18,272.53 555.60,272.53 556.02,272.53 556.44,272.53 556.86,272.53 557.28,272.53 557.70,272.53 558.12,272.53 558.55,272.53 558.97,272.53 559.39,272.53 559.81,272.53 560.23,272.53 560.65,272.53 561.07,272.53 561.49,272.53 561.91,272.53 562.33,272.53 562.76,272.53 563.18,272.53 563.60,272.53 564.02,272.53 564.44,272.53 564.86,272.53 565.28,272.53 565.70,272.54 566.12,272.55 566.54,272.56 566.97,272.57 567.39,272.57 567.81,272.57 568.23,272.53 568.65,272.47 569.07,272.37 569.49,272.24 569.91,272.09 570.33,271.96 570.75,271.91 571.17,272.01 571.60,272.32 572.02,272.92 572.44,273.81 572.86,274.91 573.28,276.06 573.70,276.99 574.12,277.32 574.54,276.69 574.96,274.78 575.38,271.46 575.81,266.92 576.23,261.69 576.65,256.67 577.07,253.03 577.49,252.02 577.91,254.65 578.33,261.45 578.75,272.15 579.17,285.60 579.59,299.80 580.02,312.19 580.44,320.10 580.86,321.36 581.28,314.76 581.70,300.52 582.12,280.34 582.54,257.25 582.96,235.05 583.38,217.58 583.80,207.97 584.23,207.97 584.65,217.58 585.07,235.05 585.49,257.25 585.91,280.34 586.33,300.52 586.75,314.76 587.17,321.36 587.59,320.10 588.01,312.19 588.44,299.80 588.86,285.60 589.28,272.15 589.70,261.45 590.12,254.65 590.54,252.02 590.96,253.03 591.38,256.67 591.80,261.69 592.22,266.92 592.65,271.46 593.07,274.78 593.49,276.69 593.91,277.32 594.33,276.99 594.75,276.06 595.17,274.91 595.59,273.81 596.01,272.92 596.43,272.32 596.85,272.01 597.28,271.91 597.70,271.96 598.12,272.09 598.54,272.24 598.96,272.37 599.38,272.47 599.80,272.53 600.22,272.57 600.64,272.57 601.06,272.57 601.49,272.56 601.91,272.55 602.33,272.54 602.75,272.53 603.17,272.53 603.59,272.53 604.01,272.53 604.43,272.53 604.85,272.53 605.27,272.53 605.70,272.53 606.12,272.53 606.54,272.53 606.96,272.53 607.38,272.53 607.80,272.53 608.22,272.53 608.64,272.53 609.06,272.53 609.48,272.53 609.91,272.53 610.33,272.53 610.75,272.53 611.17,272.53 611.59,272.53 612.01,272.53 612.43,272.53 612.85,272.53 613.27,272.53 613.69,272.53 614.12,272.53 614.54,272.53 614.96,272.53 615.38,272.53 615.80,272.53 616.22,272.53 616.64,272.53 617.06,272.53 617.48,272.53 617.90,272.53 618.33,272.53 618.75,272.53 619.17,272.53 619.59,272.53 620.01,272.53 620.43,272.53 620.85,272.53 621.27,272.53 621.69,272.53 622.11,272.53 622.54,272.53 622.96,272.53 623.38,272.53 623.80,272.53 624.22,272.53 624.64,272.53 625.06,272.53 625.48,272.53 625.90,272.53 626.32,272.53 626.74,272.53 627.17,272.53 627.59,272.53 628.01,272.53 628.43,272.53 628.85,272.53 629.27,272.53 629.69,272.53 630.11,272.53 630.53,272.53 630.95,272.53 631.38,272.53 631.80,272.53 632.22,272.53 632.64,272.53 633.06,272.53 633.48,272.53 633.90,272.53 634.32,272.53 634.74,272.53 635.16,272.53 635.59,272.53 636.01,272.53 636.43,272.53 636.85,272.53 637.27,272.53 637.69,272.53 638.11,272.53 638.53,272.53 638.95,272.53 639.37,272.53 639.80,272.53 640.22,272.53 640.64,272.53 641.06,272.53 641.48,272.53 641.90,272.53 642.32,272.53 642.74,272.53 643.16,272.53 643.58,272.53 644.01,272.53 644.43,272.53 644.85,272.53 645.27,272.53 645.69,272.53 646.11,272.53 646.53,272.53 646.95,272.53 647.37,272.53 647.79,272.53 648.22,272.53 648.64,272.53 649.06,272.53 649.48,272.53 649.90,272.53 650.32,272.53 650.74,272.53 651.16,272.53 651.58,272.53 652.00,272.53 652.42,272.53 652.85,272.53 653.27,272.53 653.69,272.53 654.11,272.53 654.53,272.53 654.95,272.53 655.37,272.53 655.79,272.53 656.21,272.53 656.63,272.53 657.06,272.53 657.48,272.53 657.90,272.53 658.32,272.53 658.74,272.53 659.16,272.53 659.58,272.53 660.00,272.53 660.42,272.53 660.84,272.53 661.27,272.53 661.69,272.53 662.11,272.53 662.53,272.53 662.95,272.53 663.37,272.53 663.79,272.53 664.21,272.53 664.63,272.53 665.05,272.53 665.48,272.53 665.90,272.53 666.32,272.53 666.74,272.53 667.16,272.53 667.58,272.53 668.00,272.53" fill="none" stroke="#1f77b4" stroke-width="0.93" stroke-linejoin="round" stroke-linecap="square"/>
<polyline points="500.03,272.53 500.45,272.53 500.87,272.53 501.29,272.53 501.71,272.53 502.13,272.53 502.55,272.53 502.98,272.53 503.40,272.53 503.82,272.53 504.24,272.53 504.66,272.53 505.08,272.53 505.50,272.53 505.92,272.53 506.34,272.53 506.76,272.53 507.19,272.53 507.61,272.53 508.03,272.53 508.45,272.53 508.87,272.53 509.29,272.53 509.71,272.53 510.13,272.53 510.55,272.53 510.97,272.53 511.40,272.53 511.82,272.53 512.24,272.53 512.66,272.53 513.08,272.53 513.50,272.53 513.92,272.53 514.34,272.53 514.76,272.53 515.18,272.53 515.61,272.53 516.03,272.53 516.45,272.53 516.87,272.53 517.29,272.53 517.71,272.53 518.13,272.53 518.55,272.53 518.97,272.53 519.39,272.53 519.81,272.53 520.24,272.53 520.66,272.53 521.08,272.53 521.50,272.53 521.92,272.53 522.34,272.53 522.76,272.53 523.18,272.53 523.60,272.53 524.02,272.53 524.45,272.53 524.87,272.53 525.29,272.53 525.71,272.53 526.13,272.53 526.55,272.53 526.97,272.53 527.39,272.53 527.81,272.53 528.23,272.53 528.66,272.53 529.08,272.53 529.50,272.53 529.92,272.53 530.34,272.53 530.76,272.53 531.18,272.53 531.60,272.53 532.02,272.53 532.44,272.53 532.87,272.53 533.29,272.53 533.71,272.53 534.13,272.53 534.55,272.53 534.97,272.53 535.39,272.53 535.81,272.53 536.23,272.53 536.65,272.53 537.08,272.53 537.50,272.53 537.92,272.53 538.34,272.53 538.76,272.53 539.18,272.53 539.60,272.53 540.02,272.53 540.44,272.53 540.86,272.53 541.29,272.53 541.71,272.53 542.13,272.53 542.55,272.53 542.97,272.53 543.39,272.53 543.81,272.53 544.23,272.53 544.65,272.53 545.07,272.53 545.49,272.53 545.92,272.53 546.34,272.53 546.76,272.53 547.18,272.53 547.60,272.53 548.02,272.53 548.44,272.53 548.86,272.53 549.28,272.53 549.70,272.53 550.13,272.53 550.55,272.53 550.97,272.53 551.39,272.53 551.81,272.53 552.23,272.53 552.65,272.53 553.07,272.53 553.49,272.53 553.91,272.53 554.34,272.53 554.76,272.53 555.18,272.53 555.60,272.53 556.02,272.53 556.44,272.53 556.86,272.53 557.28,272.53 557.70,272.53 558.12,272.53 558.55,272.53 558.97,272.53 559.39,272.53 559.81,272.53 560.23,272.53 560.65,272.53 561.07,272.53 561.49,272.53 561.91,272.53 562.33,272.53 562.76,272.53 563.18,272.53 563.60,272.53 564.02,272.53 564.44,272.53 564.86,272.52 565.28,272.52 565.70,272.52 566.12,272.52 566.54,272.53 566.97,272.55 567.39,272.57 567.81,272.61 568.23,272.65 568.65,272.69 569.07,272.71 569.49,272.68 569.91,272.57 570.33,272.37 570.75,272.05 571.17,271.64 571.60,271.19 572.02,270.82 572.44,270.68 572.86,270.94 573.28,271.77 573.70,273.27 574.12,275.42 574.54,278.00 574.96,280.59 575.38,282.56 575.81,283.20 576.23,281.83 576.65,277.98 577.07,271.61 577.49,263.24 577.91,254.00 578.33,245.54 578.75,239.76 579.17,238.47 579.59,242.92 580.02,253.44 580.44,269.15 580.86,288.01 581.28,307.02 581.70,322.78 582.12,332.16 582.54,332.94 582.96,324.41 583.38,307.53 583.80,284.88 584.23,260.18 584.65,237.53 585.07,220.65 585.49,212.12 585.91,212.90 586.33,222.28 586.75,238.04 587.17,257.05 587.59,275.91 588.01,291.62 588.44,302.14 588.86,306.59 589.28,305.30 589.70,299.52 590.12,291.06 590.54,281.82 590.96,273.45 591.38,267.08 591.80,263.23 592.22,261.86 592.65,262.50 593.07,264.47 593.49,267.06 593.91,269.64 594.33,271.79 594.75,273.29 595.17,274.12 595.59,274.38 596.01,274.24 596.43,273.87 596.85,273.42 597.28,273.01 597.70,272.69 598.12,272.49 598.54,272.38 598.96,272.35 599.38,272.37 599.80,272.41 600.22,272.45 600.64,272.49 601.06,272.51 601.49,272.53 601.91,272.54 602.33,272.54 602.75,272.54 603.17,272.54 603.59,272.53 604.01,272.53 604.43,272.53 604.85,272.53 605.27,272.53 605.70,272.53 606.12,272.53 606.54,272.53 606.96,272.53 607.38,272.53 607.80,272.53 608.22,272.53 608.64,272.53 609.06,272.53 609.48,272.53 609.91,272.53 610.33,272.53 610.75,272.53 611.17,272.53 611.59,272.53 612.01,272.53 612.43,272.53 612.85,272.53 613.27,272.53 613.69,272.53 614.12,272.53 614.54,272.53 614.96,272.53 615.38,272.53 615.80,272.53 616.22,272.53 616.64,272.53 617.06,272.53 617.48,272.53 617.90,272.53 618.33,272.53 618.75,272.53 619.17,272.53 619.59,272.53 620.01,272.53 620.43,272.53 620.85,272.53 621.27,272.53 621.69,272.53 622.11,272.53 622.54,272.53 622.96,272.53 623.38,272.53 623.80,272.53 624.22,272.53 624.64,272.53 625.06,272.53 625.48,272.53 625.90,272.53 626.32,272.53 626.74,272.53 627.17,272.53 627.59,272.53 628.01,272.53 628.43,272.53 628.85,272.53 629.27,272.53 629.69,272.53 630.11,272.53 630.53,272.53 630.95,272.53 631.38,272.53 631.80,272.53 632.22,272.53 632.64,272.53 633.06,272.53 633.48,272.53 633.90,272.53 634.32,272.53 634.74,272.53 635.16,272.53 635.59,272.53 636.01,272.53 636.43,272.53 636.85,272.53 637.27,272.53 637.69,272.53 638.11,272.53 638.53,272.53 638.95,272.53 639.37,272.53 639.80,272.53 640.22,272.53 640.64,272.53 641.06,272.53 641.48,272.53 641.90,272.53 642.32,272.53 642.74,272.53 643.16,272.53 643.58,272.53 644.01,272.53 644.43,272.53 644.85,272.53 645.27,272.53 645.69,272.53 646.11,272.53 646.53,272.53 646.95,272.53 647.37,272.53 647.79,272.53 648.22,272.53 648.64,272.53 649.06,272.53 649.48,272.53 649.90,272.53 650.32,272.53 650.74,272.53 651.16,272.53 651.58,272.53 652.00,272.53 652.42,272.53 652.85,272.53 653.27,272.53 653.69,272.53 654.11,272.53 654.53,272.53 654.95,272.53 655.37,272.53 655.79,272.53 656.21,272.53 656.63,272.53 657.06,272.53 657.48,272.53 657.90,272.53 658.32,272.53 658.74,272.53 659.16,272.53 659.58,272.53 660.00,272.53 660.42,272.53 660.84,272.53 661.27,272.53 661.69,272.53 662.11,272.53 662.53,272.53 662.95,272.53 663.37,272.53 663.79,272.53 664.21,272.53 664.63,272.53 665.05,272.53 665.48,272.53 665.90,272.53 666.32,272.53 666.74,272.53 667.16,272.53 667.58,272.53 668.00,272.53" fill="none" stroke="#ff7f0e" stroke-width="0.93" stroke-linejoin="round" stroke-linecap="square"/></g>
<rect x="491.63" y="201.94" width="184.77" height="137.47" fill="none" stroke="#000" stroke-width="0.41" stroke-linecap="square"/>
<line x1="500.03" y1="339.41" x2="500.03" y2="341.22" stroke="#000" stroke-width="0.41"/>
<text x="498.42" y="347.12" font-size="5.79">0</text>
<line x1="521.08" y1="339.41" x2="521.08" y2="341.22" stroke="#000" stroke-width="0.41"/>
<text x="517.82 521.10" y="347.12" font-size="5.79">50</text>
<line x1="542.13" y1="339.41" x2="542.13" y2="341.22" stroke="#000" stroke-width="0.41"/>
<text x="537.21 540.52 543.79" y="347.12" font-size="5.79">100</text>
<line x1="563.18" y1="339.41" x2="563.18" y2="341.22" stroke="#000" stroke-width="0.41"/>
<text x="558.26 561.55 564.84" y="347.12" font-size="5.79">150</text>
<line x1="584.23" y1="339.41" x2="584.23" y2="341.22" stroke="#000" stroke-width="0.41"/>
<text x="579.29 582.62 585.87" y="347.12" font-size="5.79">200</text>
<line x1="605.27" y1="339.41" x2="605.27" y2="341.22" stroke="#000" stroke-width="0.41"/>
<text x="600.34 603.65 606.92" y="347.12" font-size="5.79">250</text>
<line x1="626.32" y1="339.41" x2="626.32" y2="341.22" stroke="#000" stroke-width="0.41"/>
<text x="621.46 624.71 627.97" y="347.12" font-size="5.79">300</text>
<line x1="647.37" y1="339.41" x2="647.37" y2="341.22" stroke="#000" stroke-width="0.41"/>
<text x="642.51 645.74 649.02" y="347.12" font-size="5.79">350</text>
<line x1="668.42" y1="339.41" x2="668.42" y2="341.22" stroke="#000" stroke-width="0.41"/>
<text x="663.55 666.81 670.07" y="347.12" font-size="5.79">400</text>
<line x1="489.82" y1="325.11" x2="491.63" y2="325.11" stroke="#000" stroke-width="0.41"/>
<text x="475.95 479.84 483.10 484.76" y="327.37" font-size="5.79">−0.6</text>
<line x1="489.82" y1="307.58" x2="491.63" y2="307.58" stroke="#000" stroke-width="0.41"/>
<text x="475.99 479.86 483.12 484.76" y="309.85" font-size="5.79">−0.4</text>
<line x1="489.82" y1="290.06" x2="491.63" y2="290.06" stroke="#000" stroke-width="0.41"/>
<text x="475.99 479.86 483.12 484.70" y="292.32" font-size="5.79">−0.2</text>
<line x1="489.82" y1="272.53" x2="491.63" y2="272.53" stroke="#000" stroke-width="0.41"/>
<text x="479.88 483.13 484.77" y="274.79" font-size="5.79">0.0</text>
<line x1="489.82" y1="255.00" x2="491.63" y2="255.00" stroke="#000" stroke-width="0.41"/>
<text x="479.88 483.13 484.70" y="257.27" font-size="5.79">0.2</text>
<line x1="489.82" y1="237.48" x2="491.63" y2="237.48" stroke="#000" stroke-width="0.41"/>
<text x="479.88 483.13 484.77" y="239.74" font-size="5.79">0.4</text>
<line x1="489.82" y1="219.95" x2="491.63" y2="219.95" stroke="#000" stroke-width="0.41"/>
<text x="479.84 483.10 484.76" y="222.21" font-size="5.79">0.6</text>
<line x1="489.82" y1="202.42" x2="491.63" y2="202.42" stroke="#000" stroke-width="0.41"/>
<text x="479.84 483.10 484.76" y="204.69" font-size="5.79">0.8</text>
<text x="549.75 553.06 556.56 561.52 564.80 566.15 569.26 572.03 573.66 577.93 579.48 581.33 584.59 586.37 587.95 591.17 595.03 598.32 601.60 604.86 606.45 608.31 610.16 612.52" y="354.39" font-size="5.79">Samples with fs=500 ---&gt;</text>
<g transform="translate(471.30,291.76) rotate(-90)"><text x="-0.18 3.62 8.57 11.86 13.29 14.83 16.67 19.91 23.17 26.28 29.04 30.62 32.48 34.33 36.69" y="0.00" font-size="5.79">Amplitudes ---&gt;</text></g>
<text x="497.00 502.49 506.52 508.91 510.51 514.54 516.74 518.44 522.65 524.67 528.76 532.53 536.02 537.94 541.96 544.39 550.28 552.22 557.33 559.17 561.38 565.27 567.24 571.05 574.87 576.83 578.72 582.72 584.71 586.53 590.11 593.54 597.13 598.72 602.44 605.75 608.24 612.85 614.81 618.71 620.36 624.45 628.30 632.23 634.08 637.25 640.46 644.60 646.20 650.02 652.51 657.12 659.09 662.98 664.95" y="198.84" font-size="6.94">Morlet Transform with no. of cycles = 4 and scale = 3.0</text>
<rect x="642.20" y="204.52" width="31.62" height="17.13" rx="1.03" fill="#fff" fill-opacity="0.8" stroke="#ccc" stroke-width="0.52"/>
<line x1="644.26" y1="208.87" x2="654.61" y2="208.87" stroke="#1f77b4" stroke-width="0.93" stroke-linecap="square"/>
<line x1="644.26" y1="216.66" x2="654.61" y2="216.66" stroke="#ff7f0e" stroke-width="0.93" stroke-linecap="square"/>
<text x="658.94 660.85 663.80 667.27" y="210.68" font-size="5.79">real</text>
<text x="658.83 660.33 665.04 668.46" y="218.47" font-size="5.79">imag</text>
<text class="cap" x="562.11" y="372.70" font-size="17.40">(f)</text></g>
</g>
</svg>
</body></html>
